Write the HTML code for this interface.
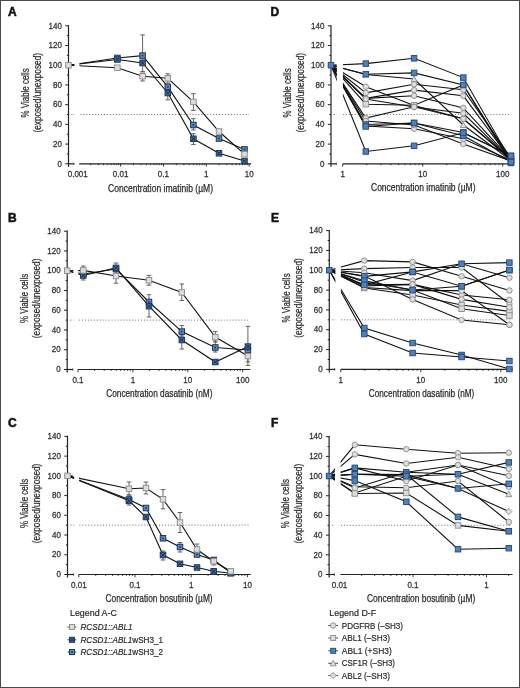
<!DOCTYPE html>
<html><head><meta charset="utf-8"><style>
html,body{margin:0;padding:0;background:#fff;}
#wrap{position:relative;width:520px;height:688px;overflow:hidden;background:#fff;}
#frame{position:absolute;left:0;top:0;width:518px;height:686px;border:1px solid #4a4a4a;}
svg{position:absolute;left:0;top:0;will-change:transform;}
.tk{font-family:"Liberation Sans", sans-serif;font-size:9.8px;fill:#333;stroke:#333;stroke-width:0.3px;}
.ttl{font-family:"Liberation Sans", sans-serif;font-size:10.3px;fill:#2a2a2a;stroke:#2a2a2a;stroke-width:0.25px;}
.pl{font-family:"Liberation Sans", sans-serif;font-size:12px;font-weight:bold;fill:#111;stroke:#111;stroke-width:0.5px;}
.lg{font-family:"Liberation Sans", sans-serif;font-size:8.9px;fill:#2a2a2a;stroke:#2a2a2a;stroke-width:0.2px;}
</style></head><body><div id="wrap">
<svg width="520" height="688" viewBox="0 0 520 688">
<line x1="68.5" y1="25.2" x2="68.5" y2="166.8" stroke="#222" stroke-width="1.2"/>
<line x1="65.3" y1="163.8" x2="68.5" y2="163.8" stroke="#222" stroke-width="1"/>
<text x="57.45" y="166.5" textLength="4.45" lengthAdjust="spacingAndGlyphs" class="tk">0</text>
<line x1="66.9" y1="153.94" x2="68.5" y2="153.94" stroke="#222" stroke-width="1"/>
<line x1="65.3" y1="144.09" x2="68.5" y2="144.09" stroke="#222" stroke-width="1"/>
<text x="53" y="146.79" textLength="8.9" lengthAdjust="spacingAndGlyphs" class="tk">20</text>
<line x1="66.9" y1="134.23" x2="68.5" y2="134.23" stroke="#222" stroke-width="1"/>
<line x1="65.3" y1="124.37" x2="68.5" y2="124.37" stroke="#222" stroke-width="1"/>
<text x="53" y="127.07" textLength="8.9" lengthAdjust="spacingAndGlyphs" class="tk">40</text>
<line x1="66.9" y1="114.51" x2="68.5" y2="114.51" stroke="#222" stroke-width="1"/>
<line x1="65.3" y1="104.66" x2="68.5" y2="104.66" stroke="#222" stroke-width="1"/>
<text x="53" y="107.36" textLength="8.9" lengthAdjust="spacingAndGlyphs" class="tk">60</text>
<line x1="66.9" y1="94.8" x2="68.5" y2="94.8" stroke="#222" stroke-width="1"/>
<line x1="65.3" y1="84.94" x2="68.5" y2="84.94" stroke="#222" stroke-width="1"/>
<text x="53" y="87.64" textLength="8.9" lengthAdjust="spacingAndGlyphs" class="tk">80</text>
<line x1="66.9" y1="75.09" x2="68.5" y2="75.09" stroke="#222" stroke-width="1"/>
<line x1="65.3" y1="65.23" x2="68.5" y2="65.23" stroke="#222" stroke-width="1"/>
<text x="48.55" y="67.93" textLength="13.35" lengthAdjust="spacingAndGlyphs" class="tk">100</text>
<line x1="66.9" y1="55.37" x2="68.5" y2="55.37" stroke="#222" stroke-width="1"/>
<line x1="65.3" y1="45.51" x2="68.5" y2="45.51" stroke="#222" stroke-width="1"/>
<text x="48.55" y="48.21" textLength="13.35" lengthAdjust="spacingAndGlyphs" class="tk">120</text>
<line x1="66.9" y1="35.66" x2="68.5" y2="35.66" stroke="#222" stroke-width="1"/>
<line x1="65.3" y1="25.8" x2="68.5" y2="25.8" stroke="#222" stroke-width="1"/>
<text x="48.55" y="28.5" textLength="13.35" lengthAdjust="spacingAndGlyphs" class="tk">140</text>
<line x1="68.5" y1="163.8" x2="73.9" y2="163.8" stroke="#222" stroke-width="1.2"/>
<line x1="73.9" y1="162.6" x2="73.9" y2="165" stroke="#222" stroke-width="0.8"/>
<line x1="79.2" y1="163.8" x2="251" y2="163.8" stroke="#222" stroke-width="1.2"/>
<line x1="90.65" y1="163.8" x2="90.65" y2="165.2" stroke="#222" stroke-width="0.9"/>
<line x1="98.19" y1="163.8" x2="98.19" y2="165.2" stroke="#222" stroke-width="0.9"/>
<line x1="103.55" y1="163.8" x2="103.55" y2="165.2" stroke="#222" stroke-width="0.9"/>
<line x1="107.7" y1="163.8" x2="107.7" y2="165.2" stroke="#222" stroke-width="0.9"/>
<line x1="111.09" y1="163.8" x2="111.09" y2="165.2" stroke="#222" stroke-width="0.9"/>
<line x1="113.96" y1="163.8" x2="113.96" y2="165.2" stroke="#222" stroke-width="0.9"/>
<line x1="116.45" y1="163.8" x2="116.45" y2="165.2" stroke="#222" stroke-width="0.9"/>
<line x1="118.64" y1="163.8" x2="118.64" y2="165.2" stroke="#222" stroke-width="0.9"/>
<line x1="120.6" y1="163.8" x2="120.6" y2="166.6" stroke="#222" stroke-width="0.9"/>
<line x1="133.5" y1="163.8" x2="133.5" y2="165.2" stroke="#222" stroke-width="0.9"/>
<line x1="141.04" y1="163.8" x2="141.04" y2="165.2" stroke="#222" stroke-width="0.9"/>
<line x1="146.4" y1="163.8" x2="146.4" y2="165.2" stroke="#222" stroke-width="0.9"/>
<line x1="150.55" y1="163.8" x2="150.55" y2="165.2" stroke="#222" stroke-width="0.9"/>
<line x1="153.94" y1="163.8" x2="153.94" y2="165.2" stroke="#222" stroke-width="0.9"/>
<line x1="156.81" y1="163.8" x2="156.81" y2="165.2" stroke="#222" stroke-width="0.9"/>
<line x1="159.3" y1="163.8" x2="159.3" y2="165.2" stroke="#222" stroke-width="0.9"/>
<line x1="161.49" y1="163.8" x2="161.49" y2="165.2" stroke="#222" stroke-width="0.9"/>
<line x1="163.45" y1="163.8" x2="163.45" y2="166.6" stroke="#222" stroke-width="0.9"/>
<line x1="176.35" y1="163.8" x2="176.35" y2="165.2" stroke="#222" stroke-width="0.9"/>
<line x1="183.89" y1="163.8" x2="183.89" y2="165.2" stroke="#222" stroke-width="0.9"/>
<line x1="189.25" y1="163.8" x2="189.25" y2="165.2" stroke="#222" stroke-width="0.9"/>
<line x1="193.4" y1="163.8" x2="193.4" y2="165.2" stroke="#222" stroke-width="0.9"/>
<line x1="196.79" y1="163.8" x2="196.79" y2="165.2" stroke="#222" stroke-width="0.9"/>
<line x1="199.66" y1="163.8" x2="199.66" y2="165.2" stroke="#222" stroke-width="0.9"/>
<line x1="202.15" y1="163.8" x2="202.15" y2="165.2" stroke="#222" stroke-width="0.9"/>
<line x1="204.34" y1="163.8" x2="204.34" y2="165.2" stroke="#222" stroke-width="0.9"/>
<line x1="206.3" y1="163.8" x2="206.3" y2="166.6" stroke="#222" stroke-width="0.9"/>
<line x1="219.2" y1="163.8" x2="219.2" y2="165.2" stroke="#222" stroke-width="0.9"/>
<line x1="226.74" y1="163.8" x2="226.74" y2="165.2" stroke="#222" stroke-width="0.9"/>
<line x1="232.1" y1="163.8" x2="232.1" y2="165.2" stroke="#222" stroke-width="0.9"/>
<line x1="236.25" y1="163.8" x2="236.25" y2="165.2" stroke="#222" stroke-width="0.9"/>
<line x1="239.64" y1="163.8" x2="239.64" y2="165.2" stroke="#222" stroke-width="0.9"/>
<line x1="242.51" y1="163.8" x2="242.51" y2="165.2" stroke="#222" stroke-width="0.9"/>
<line x1="245" y1="163.8" x2="245" y2="165.2" stroke="#222" stroke-width="0.9"/>
<line x1="247.19" y1="163.8" x2="247.19" y2="165.2" stroke="#222" stroke-width="0.9"/>
<line x1="249.15" y1="163.8" x2="249.15" y2="166.6" stroke="#222" stroke-width="0.9"/>
<text x="67.7" y="177.2" textLength="20.1" lengthAdjust="spacingAndGlyphs" class="tk">0.001</text>
<text x="112.78" y="177.2" textLength="15.65" lengthAdjust="spacingAndGlyphs" class="tk">0.01</text>
<text x="157.85" y="177.2" textLength="11.2" lengthAdjust="spacingAndGlyphs" class="tk">0.1</text>
<text x="204.08" y="177.2" textLength="4.45" lengthAdjust="spacingAndGlyphs" class="tk">1</text>
<text x="244.7" y="177.2" textLength="8.9" lengthAdjust="spacingAndGlyphs" class="tk">10</text>
<text x="108" y="191.5" textLength="105" lengthAdjust="spacingAndGlyphs" class="ttl">Concentration imatinib (µM)</text>
<text transform="translate(28.8,92.8) rotate(-90)" x="-24.6" y="0" textLength="49.2" lengthAdjust="spacingAndGlyphs" class="ttl">% Viable cells</text>
<text transform="translate(41,92.8) rotate(-90)" x="-39.8" y="0" textLength="79.6" lengthAdjust="spacingAndGlyphs" class="ttl">(exposed/unexposed)</text>
<line x1="71.5" y1="114.51" x2="249" y2="114.51" stroke="#555" stroke-width="0.8" stroke-dasharray="1.1 1.85"/>
<text x="8" y="16.2" class="pl">A</text>
<path d="M68.5 65.23 L117.4 58 L142.6 55.6 L167.8 86.9 L193.4 125 L219 138.5 L244.5 149.4" fill="none" stroke="#111" stroke-width="1.1"/>
<path d="M68.5 65.23 L117.4 59.5 L142.6 63 L167.8 93 L193.4 138.8 L219 153.3 L244.5 161" fill="none" stroke="#111" stroke-width="1.1"/>
<path d="M68.5 65.23 L117.4 67.7 L142.6 76.2 L167.8 78.3 L193.4 101.9 L219 131.5 L244.5 154.2" fill="none" stroke="#111" stroke-width="1.1"/>
<rect x="74.5" y="20.8" width="4.9" height="142" fill="#fff"/>
<line x1="142.6" y1="34.9" x2="142.6" y2="55.6" stroke="#555" stroke-width="0.9"/><line x1="140.3" y1="34.9" x2="144.9" y2="34.9" stroke="#555" stroke-width="0.9"/><line x1="140.3" y1="55.6" x2="144.9" y2="55.6" stroke="#555" stroke-width="0.9"/>
<line x1="193.4" y1="118.7" x2="193.4" y2="130" stroke="#555" stroke-width="0.9"/><line x1="191.1" y1="118.7" x2="195.7" y2="118.7" stroke="#555" stroke-width="0.9"/><line x1="191.1" y1="130" x2="195.7" y2="130" stroke="#555" stroke-width="0.9"/>
<line x1="142.6" y1="60" x2="142.6" y2="71.5" stroke="#555" stroke-width="0.9"/><line x1="140.3" y1="60" x2="144.9" y2="60" stroke="#555" stroke-width="0.9"/><line x1="140.3" y1="71.5" x2="144.9" y2="71.5" stroke="#555" stroke-width="0.9"/>
<line x1="167.8" y1="86" x2="167.8" y2="99.8" stroke="#555" stroke-width="0.9"/><line x1="165.5" y1="86" x2="170.1" y2="86" stroke="#555" stroke-width="0.9"/><line x1="165.5" y1="99.8" x2="170.1" y2="99.8" stroke="#555" stroke-width="0.9"/>
<line x1="193.4" y1="133.7" x2="193.4" y2="144.6" stroke="#555" stroke-width="0.9"/><line x1="191.1" y1="133.7" x2="195.7" y2="133.7" stroke="#555" stroke-width="0.9"/><line x1="191.1" y1="144.6" x2="195.7" y2="144.6" stroke="#555" stroke-width="0.9"/>
<line x1="142.6" y1="73" x2="142.6" y2="81" stroke="#555" stroke-width="0.9"/><line x1="140.3" y1="73" x2="144.9" y2="73" stroke="#555" stroke-width="0.9"/><line x1="140.3" y1="81" x2="144.9" y2="81" stroke="#555" stroke-width="0.9"/>
<line x1="167.8" y1="73.8" x2="167.8" y2="83" stroke="#555" stroke-width="0.9"/><line x1="165.5" y1="73.8" x2="170.1" y2="73.8" stroke="#555" stroke-width="0.9"/><line x1="165.5" y1="83" x2="170.1" y2="83" stroke="#555" stroke-width="0.9"/>
<line x1="193.4" y1="93.7" x2="193.4" y2="110.4" stroke="#555" stroke-width="0.9"/><line x1="191.1" y1="93.7" x2="195.7" y2="93.7" stroke="#555" stroke-width="0.9"/><line x1="191.1" y1="110.4" x2="195.7" y2="110.4" stroke="#555" stroke-width="0.9"/>
<rect x="114.65" y="55.25" width="5.5" height="5.5" fill="#5a88c4" stroke="#1d3557" stroke-width="1"/><circle cx="117.4" cy="58" r="0.9" fill="#1d3557"/>
<rect x="139.85" y="52.85" width="5.5" height="5.5" fill="#5a88c4" stroke="#1d3557" stroke-width="1"/><circle cx="142.6" cy="55.6" r="0.9" fill="#1d3557"/>
<rect x="165.05" y="84.15" width="5.5" height="5.5" fill="#5a88c4" stroke="#1d3557" stroke-width="1"/><circle cx="167.8" cy="86.9" r="0.9" fill="#1d3557"/>
<rect x="190.65" y="122.25" width="5.5" height="5.5" fill="#5a88c4" stroke="#1d3557" stroke-width="1"/><circle cx="193.4" cy="125" r="0.9" fill="#1d3557"/>
<rect x="216.25" y="135.75" width="5.5" height="5.5" fill="#5a88c4" stroke="#1d3557" stroke-width="1"/><circle cx="219" cy="138.5" r="0.9" fill="#1d3557"/>
<rect x="241.75" y="146.65" width="5.5" height="5.5" fill="#5a88c4" stroke="#1d3557" stroke-width="1"/><circle cx="244.5" cy="149.4" r="0.9" fill="#1d3557"/>
<rect x="114.65" y="56.75" width="5.5" height="5.5" fill="#4f7db8" stroke="#1d3557" stroke-width="1"/><path d="M115.45 57.55L119.35 61.45M119.35 57.55L115.45 61.45" stroke="#1d3557" stroke-width="1.1"/>
<rect x="139.85" y="60.25" width="5.5" height="5.5" fill="#4f7db8" stroke="#1d3557" stroke-width="1"/><path d="M140.65 61.05L144.55 64.95M144.55 61.05L140.65 64.95" stroke="#1d3557" stroke-width="1.1"/>
<rect x="165.05" y="90.25" width="5.5" height="5.5" fill="#4f7db8" stroke="#1d3557" stroke-width="1"/><path d="M165.85 91.05L169.75 94.95M169.75 91.05L165.85 94.95" stroke="#1d3557" stroke-width="1.1"/>
<rect x="190.65" y="136.05" width="5.5" height="5.5" fill="#4f7db8" stroke="#1d3557" stroke-width="1"/><path d="M191.45 136.85L195.35 140.75M195.35 136.85L191.45 140.75" stroke="#1d3557" stroke-width="1.1"/>
<rect x="216.25" y="150.55" width="5.5" height="5.5" fill="#4f7db8" stroke="#1d3557" stroke-width="1"/><path d="M217.05 151.35L220.95 155.25M220.95 151.35L217.05 155.25" stroke="#1d3557" stroke-width="1.1"/>
<rect x="241.75" y="158.25" width="5.5" height="5.5" fill="#4f7db8" stroke="#1d3557" stroke-width="1"/><path d="M242.55 159.05L246.45 162.95M246.45 159.05L242.55 162.95" stroke="#1d3557" stroke-width="1.1"/>
<rect x="114.65" y="64.95" width="5.5" height="5.5" fill="#dcdcdc" stroke="#8a8a8a" stroke-width="0.9"/>
<rect x="139.85" y="73.45" width="5.5" height="5.5" fill="#dcdcdc" stroke="#8a8a8a" stroke-width="0.9"/>
<rect x="165.05" y="75.55" width="5.5" height="5.5" fill="#dcdcdc" stroke="#8a8a8a" stroke-width="0.9"/>
<rect x="190.65" y="99.15" width="5.5" height="5.5" fill="#dcdcdc" stroke="#8a8a8a" stroke-width="0.9"/>
<rect x="216.25" y="128.75" width="5.5" height="5.5" fill="#dcdcdc" stroke="#8a8a8a" stroke-width="0.9"/>
<rect x="241.75" y="151.45" width="5.5" height="5.5" fill="#dcdcdc" stroke="#8a8a8a" stroke-width="0.9"/>
<rect x="65.75" y="62.48" width="5.5" height="5.5" fill="#dcdcdc" stroke="#8a8a8a" stroke-width="0.9"/>
<line x1="71.9" y1="65.23" x2="73.7" y2="65.23" stroke="#1a1a1a" stroke-width="1.2"/>
<line x1="67.2" y1="230.6" x2="67.2" y2="372.5" stroke="#222" stroke-width="1.2"/>
<line x1="64" y1="369.5" x2="67.2" y2="369.5" stroke="#222" stroke-width="1"/>
<text x="56.15" y="372.2" textLength="4.45" lengthAdjust="spacingAndGlyphs" class="tk">0</text>
<line x1="65.6" y1="359.62" x2="67.2" y2="359.62" stroke="#222" stroke-width="1"/>
<line x1="64" y1="349.74" x2="67.2" y2="349.74" stroke="#222" stroke-width="1"/>
<text x="51.7" y="352.44" textLength="8.9" lengthAdjust="spacingAndGlyphs" class="tk">20</text>
<line x1="65.6" y1="339.86" x2="67.2" y2="339.86" stroke="#222" stroke-width="1"/>
<line x1="64" y1="329.99" x2="67.2" y2="329.99" stroke="#222" stroke-width="1"/>
<text x="51.7" y="332.69" textLength="8.9" lengthAdjust="spacingAndGlyphs" class="tk">40</text>
<line x1="65.6" y1="320.11" x2="67.2" y2="320.11" stroke="#222" stroke-width="1"/>
<line x1="64" y1="310.23" x2="67.2" y2="310.23" stroke="#222" stroke-width="1"/>
<text x="51.7" y="312.93" textLength="8.9" lengthAdjust="spacingAndGlyphs" class="tk">60</text>
<line x1="65.6" y1="300.35" x2="67.2" y2="300.35" stroke="#222" stroke-width="1"/>
<line x1="64" y1="290.47" x2="67.2" y2="290.47" stroke="#222" stroke-width="1"/>
<text x="51.7" y="293.17" textLength="8.9" lengthAdjust="spacingAndGlyphs" class="tk">80</text>
<line x1="65.6" y1="280.59" x2="67.2" y2="280.59" stroke="#222" stroke-width="1"/>
<line x1="64" y1="270.71" x2="67.2" y2="270.71" stroke="#222" stroke-width="1"/>
<text x="47.25" y="273.41" textLength="13.35" lengthAdjust="spacingAndGlyphs" class="tk">100</text>
<line x1="65.6" y1="260.84" x2="67.2" y2="260.84" stroke="#222" stroke-width="1"/>
<line x1="64" y1="250.96" x2="67.2" y2="250.96" stroke="#222" stroke-width="1"/>
<text x="47.25" y="253.66" textLength="13.35" lengthAdjust="spacingAndGlyphs" class="tk">120</text>
<line x1="65.6" y1="241.08" x2="67.2" y2="241.08" stroke="#222" stroke-width="1"/>
<line x1="64" y1="231.2" x2="67.2" y2="231.2" stroke="#222" stroke-width="1"/>
<text x="47.25" y="233.9" textLength="13.35" lengthAdjust="spacingAndGlyphs" class="tk">140</text>
<line x1="67.2" y1="369.5" x2="72.8" y2="369.5" stroke="#222" stroke-width="1.2"/>
<line x1="72.8" y1="368.3" x2="72.8" y2="370.7" stroke="#222" stroke-width="0.8"/>
<line x1="78" y1="369.5" x2="250.3" y2="369.5" stroke="#222" stroke-width="1.2"/>
<line x1="78" y1="369.5" x2="78" y2="372.3" stroke="#222" stroke-width="0.9"/>
<line x1="94.53" y1="369.5" x2="94.53" y2="370.9" stroke="#222" stroke-width="0.9"/>
<line x1="104.19" y1="369.5" x2="104.19" y2="370.9" stroke="#222" stroke-width="0.9"/>
<line x1="111.05" y1="369.5" x2="111.05" y2="370.9" stroke="#222" stroke-width="0.9"/>
<line x1="116.37" y1="369.5" x2="116.37" y2="370.9" stroke="#222" stroke-width="0.9"/>
<line x1="120.72" y1="369.5" x2="120.72" y2="370.9" stroke="#222" stroke-width="0.9"/>
<line x1="124.4" y1="369.5" x2="124.4" y2="370.9" stroke="#222" stroke-width="0.9"/>
<line x1="127.58" y1="369.5" x2="127.58" y2="370.9" stroke="#222" stroke-width="0.9"/>
<line x1="130.39" y1="369.5" x2="130.39" y2="370.9" stroke="#222" stroke-width="0.9"/>
<line x1="132.9" y1="369.5" x2="132.9" y2="372.3" stroke="#222" stroke-width="0.9"/>
<line x1="149.43" y1="369.5" x2="149.43" y2="370.9" stroke="#222" stroke-width="0.9"/>
<line x1="159.09" y1="369.5" x2="159.09" y2="370.9" stroke="#222" stroke-width="0.9"/>
<line x1="165.95" y1="369.5" x2="165.95" y2="370.9" stroke="#222" stroke-width="0.9"/>
<line x1="171.27" y1="369.5" x2="171.27" y2="370.9" stroke="#222" stroke-width="0.9"/>
<line x1="175.62" y1="369.5" x2="175.62" y2="370.9" stroke="#222" stroke-width="0.9"/>
<line x1="179.3" y1="369.5" x2="179.3" y2="370.9" stroke="#222" stroke-width="0.9"/>
<line x1="182.48" y1="369.5" x2="182.48" y2="370.9" stroke="#222" stroke-width="0.9"/>
<line x1="185.29" y1="369.5" x2="185.29" y2="370.9" stroke="#222" stroke-width="0.9"/>
<line x1="187.8" y1="369.5" x2="187.8" y2="372.3" stroke="#222" stroke-width="0.9"/>
<line x1="204.33" y1="369.5" x2="204.33" y2="370.9" stroke="#222" stroke-width="0.9"/>
<line x1="213.99" y1="369.5" x2="213.99" y2="370.9" stroke="#222" stroke-width="0.9"/>
<line x1="220.85" y1="369.5" x2="220.85" y2="370.9" stroke="#222" stroke-width="0.9"/>
<line x1="226.17" y1="369.5" x2="226.17" y2="370.9" stroke="#222" stroke-width="0.9"/>
<line x1="230.52" y1="369.5" x2="230.52" y2="370.9" stroke="#222" stroke-width="0.9"/>
<line x1="234.2" y1="369.5" x2="234.2" y2="370.9" stroke="#222" stroke-width="0.9"/>
<line x1="237.38" y1="369.5" x2="237.38" y2="370.9" stroke="#222" stroke-width="0.9"/>
<line x1="240.19" y1="369.5" x2="240.19" y2="370.9" stroke="#222" stroke-width="0.9"/>
<line x1="242.7" y1="369.5" x2="242.7" y2="372.3" stroke="#222" stroke-width="0.9"/>
<text x="72.4" y="382.9" textLength="11.2" lengthAdjust="spacingAndGlyphs" class="tk">0.1</text>
<text x="130.68" y="382.9" textLength="4.45" lengthAdjust="spacingAndGlyphs" class="tk">1</text>
<text x="183.35" y="382.9" textLength="8.9" lengthAdjust="spacingAndGlyphs" class="tk">10</text>
<text x="236.02" y="382.9" textLength="13.35" lengthAdjust="spacingAndGlyphs" class="tk">100</text>
<text x="106.2" y="396.5" textLength="106.3" lengthAdjust="spacingAndGlyphs" class="ttl">Concentration dasatinib (nM)</text>
<text transform="translate(27.5,298.35) rotate(-90)" x="-24.6" y="0" textLength="49.2" lengthAdjust="spacingAndGlyphs" class="ttl">% Viable cells</text>
<text transform="translate(39.7,298.35) rotate(-90)" x="-39.8" y="0" textLength="79.6" lengthAdjust="spacingAndGlyphs" class="ttl">(exposed/unexposed)</text>
<line x1="70.2" y1="320.11" x2="248.3" y2="320.11" stroke="#555" stroke-width="0.8" stroke-dasharray="1.1 1.85"/>
<text x="8" y="221.7" class="pl">B</text>
<path d="M67.2 270.71 L83.3 274 L116 269 L149 302 L181.8 331.6 L215.3 347.5 L247.9 350" fill="none" stroke="#111" stroke-width="1.1"/>
<path d="M67.2 270.71 L83.3 275.5 L116 267.9 L149 306.2 L181.8 340 L215.3 362 L247.9 346.6" fill="none" stroke="#111" stroke-width="1.1"/>
<path d="M67.2 270.71 L83.3 270.4 L116 276 L149 280.3 L181.8 292.4 L215.3 337.1 L247.9 356.1" fill="none" stroke="#111" stroke-width="1.1"/>
<rect x="73.4" y="226.2" width="4.8" height="142.3" fill="#fff"/>
<line x1="181.8" y1="325.6" x2="181.8" y2="336" stroke="#555" stroke-width="0.9"/><line x1="179.5" y1="325.6" x2="184.1" y2="325.6" stroke="#555" stroke-width="0.9"/><line x1="179.5" y1="336" x2="184.1" y2="336" stroke="#555" stroke-width="0.9"/>
<line x1="215.3" y1="341" x2="215.3" y2="352" stroke="#555" stroke-width="0.9"/><line x1="213" y1="341" x2="217.6" y2="341" stroke="#555" stroke-width="0.9"/><line x1="213" y1="352" x2="217.6" y2="352" stroke="#555" stroke-width="0.9"/>
<line x1="83.3" y1="271" x2="83.3" y2="280" stroke="#555" stroke-width="0.9"/><line x1="81" y1="271" x2="85.6" y2="271" stroke="#555" stroke-width="0.9"/><line x1="81" y1="280" x2="85.6" y2="280" stroke="#555" stroke-width="0.9"/>
<line x1="116" y1="263" x2="116" y2="272" stroke="#555" stroke-width="0.9"/><line x1="113.7" y1="263" x2="118.3" y2="263" stroke="#555" stroke-width="0.9"/><line x1="113.7" y1="272" x2="118.3" y2="272" stroke="#555" stroke-width="0.9"/>
<line x1="149" y1="294.7" x2="149" y2="317" stroke="#555" stroke-width="0.9"/><line x1="146.7" y1="294.7" x2="151.3" y2="294.7" stroke="#555" stroke-width="0.9"/><line x1="146.7" y1="317" x2="151.3" y2="317" stroke="#555" stroke-width="0.9"/>
<line x1="181.8" y1="332" x2="181.8" y2="349" stroke="#555" stroke-width="0.9"/><line x1="179.5" y1="332" x2="184.1" y2="332" stroke="#555" stroke-width="0.9"/><line x1="179.5" y1="349" x2="184.1" y2="349" stroke="#555" stroke-width="0.9"/>
<line x1="247.9" y1="326.4" x2="247.9" y2="365.4" stroke="#555" stroke-width="0.9"/><line x1="245.6" y1="326.4" x2="250.2" y2="326.4" stroke="#555" stroke-width="0.9"/><line x1="245.6" y1="365.4" x2="250.2" y2="365.4" stroke="#555" stroke-width="0.9"/>
<line x1="83.3" y1="266" x2="83.3" y2="274.5" stroke="#555" stroke-width="0.9"/><line x1="81" y1="266" x2="85.6" y2="266" stroke="#555" stroke-width="0.9"/><line x1="81" y1="274.5" x2="85.6" y2="274.5" stroke="#555" stroke-width="0.9"/>
<line x1="116" y1="270" x2="116" y2="283.2" stroke="#555" stroke-width="0.9"/><line x1="113.7" y1="270" x2="118.3" y2="270" stroke="#555" stroke-width="0.9"/><line x1="113.7" y1="283.2" x2="118.3" y2="283.2" stroke="#555" stroke-width="0.9"/>
<line x1="149" y1="275.4" x2="149" y2="285.2" stroke="#555" stroke-width="0.9"/><line x1="146.7" y1="275.4" x2="151.3" y2="275.4" stroke="#555" stroke-width="0.9"/><line x1="146.7" y1="285.2" x2="151.3" y2="285.2" stroke="#555" stroke-width="0.9"/>
<line x1="181.8" y1="284" x2="181.8" y2="300.5" stroke="#555" stroke-width="0.9"/><line x1="179.5" y1="284" x2="184.1" y2="284" stroke="#555" stroke-width="0.9"/><line x1="179.5" y1="300.5" x2="184.1" y2="300.5" stroke="#555" stroke-width="0.9"/>
<line x1="215.3" y1="331.6" x2="215.3" y2="342" stroke="#555" stroke-width="0.9"/><line x1="213" y1="331.6" x2="217.6" y2="331.6" stroke="#555" stroke-width="0.9"/><line x1="213" y1="342" x2="217.6" y2="342" stroke="#555" stroke-width="0.9"/>
<line x1="247.9" y1="350" x2="247.9" y2="362" stroke="#555" stroke-width="0.9"/><line x1="245.6" y1="350" x2="250.2" y2="350" stroke="#555" stroke-width="0.9"/><line x1="245.6" y1="362" x2="250.2" y2="362" stroke="#555" stroke-width="0.9"/>
<rect x="80.55" y="271.25" width="5.5" height="5.5" fill="#5a88c4" stroke="#1d3557" stroke-width="1"/><circle cx="83.3" cy="274" r="0.9" fill="#1d3557"/>
<rect x="113.25" y="266.25" width="5.5" height="5.5" fill="#5a88c4" stroke="#1d3557" stroke-width="1"/><circle cx="116" cy="269" r="0.9" fill="#1d3557"/>
<rect x="146.25" y="299.25" width="5.5" height="5.5" fill="#5a88c4" stroke="#1d3557" stroke-width="1"/><circle cx="149" cy="302" r="0.9" fill="#1d3557"/>
<rect x="179.05" y="328.85" width="5.5" height="5.5" fill="#5a88c4" stroke="#1d3557" stroke-width="1"/><circle cx="181.8" cy="331.6" r="0.9" fill="#1d3557"/>
<rect x="212.55" y="344.75" width="5.5" height="5.5" fill="#5a88c4" stroke="#1d3557" stroke-width="1"/><circle cx="215.3" cy="347.5" r="0.9" fill="#1d3557"/>
<rect x="245.15" y="347.25" width="5.5" height="5.5" fill="#5a88c4" stroke="#1d3557" stroke-width="1"/><circle cx="247.9" cy="350" r="0.9" fill="#1d3557"/>
<rect x="80.55" y="272.75" width="5.5" height="5.5" fill="#4f7db8" stroke="#1d3557" stroke-width="1"/><path d="M81.35 273.55L85.25 277.45M85.25 273.55L81.35 277.45" stroke="#1d3557" stroke-width="1.1"/>
<rect x="113.25" y="265.15" width="5.5" height="5.5" fill="#4f7db8" stroke="#1d3557" stroke-width="1"/><path d="M114.05 265.95L117.95 269.85M117.95 265.95L114.05 269.85" stroke="#1d3557" stroke-width="1.1"/>
<rect x="146.25" y="303.45" width="5.5" height="5.5" fill="#4f7db8" stroke="#1d3557" stroke-width="1"/><path d="M147.05 304.25L150.95 308.15M150.95 304.25L147.05 308.15" stroke="#1d3557" stroke-width="1.1"/>
<rect x="179.05" y="337.25" width="5.5" height="5.5" fill="#4f7db8" stroke="#1d3557" stroke-width="1"/><path d="M179.85 338.05L183.75 341.95M183.75 338.05L179.85 341.95" stroke="#1d3557" stroke-width="1.1"/>
<rect x="212.55" y="359.25" width="5.5" height="5.5" fill="#4f7db8" stroke="#1d3557" stroke-width="1"/><path d="M213.35 360.05L217.25 363.95M217.25 360.05L213.35 363.95" stroke="#1d3557" stroke-width="1.1"/>
<rect x="245.15" y="343.85" width="5.5" height="5.5" fill="#4f7db8" stroke="#1d3557" stroke-width="1"/><path d="M245.95 344.65L249.85 348.55M249.85 344.65L245.95 348.55" stroke="#1d3557" stroke-width="1.1"/>
<rect x="80.55" y="267.65" width="5.5" height="5.5" fill="#dcdcdc" stroke="#8a8a8a" stroke-width="0.9"/>
<rect x="113.25" y="273.25" width="5.5" height="5.5" fill="#dcdcdc" stroke="#8a8a8a" stroke-width="0.9"/>
<rect x="146.25" y="277.55" width="5.5" height="5.5" fill="#dcdcdc" stroke="#8a8a8a" stroke-width="0.9"/>
<rect x="179.05" y="289.65" width="5.5" height="5.5" fill="#dcdcdc" stroke="#8a8a8a" stroke-width="0.9"/>
<rect x="212.55" y="334.35" width="5.5" height="5.5" fill="#dcdcdc" stroke="#8a8a8a" stroke-width="0.9"/>
<rect x="245.15" y="353.35" width="5.5" height="5.5" fill="#dcdcdc" stroke="#8a8a8a" stroke-width="0.9"/>
<rect x="64.45" y="267.96" width="5.5" height="5.5" fill="#dcdcdc" stroke="#8a8a8a" stroke-width="0.9"/>
<line x1="70.6" y1="270.71" x2="72.4" y2="270.71" stroke="#1a1a1a" stroke-width="1.2"/>
<line x1="67.5" y1="435.8" x2="67.5" y2="577.5" stroke="#222" stroke-width="1.2"/>
<line x1="64.3" y1="574.5" x2="67.5" y2="574.5" stroke="#222" stroke-width="1"/>
<text x="56.45" y="577.2" textLength="4.45" lengthAdjust="spacingAndGlyphs" class="tk">0</text>
<line x1="65.9" y1="564.64" x2="67.5" y2="564.64" stroke="#222" stroke-width="1"/>
<line x1="64.3" y1="554.77" x2="67.5" y2="554.77" stroke="#222" stroke-width="1"/>
<text x="52" y="557.47" textLength="8.9" lengthAdjust="spacingAndGlyphs" class="tk">20</text>
<line x1="65.9" y1="544.91" x2="67.5" y2="544.91" stroke="#222" stroke-width="1"/>
<line x1="64.3" y1="535.04" x2="67.5" y2="535.04" stroke="#222" stroke-width="1"/>
<text x="52" y="537.74" textLength="8.9" lengthAdjust="spacingAndGlyphs" class="tk">40</text>
<line x1="65.9" y1="525.18" x2="67.5" y2="525.18" stroke="#222" stroke-width="1"/>
<line x1="64.3" y1="515.31" x2="67.5" y2="515.31" stroke="#222" stroke-width="1"/>
<text x="52" y="518.01" textLength="8.9" lengthAdjust="spacingAndGlyphs" class="tk">60</text>
<line x1="65.9" y1="505.45" x2="67.5" y2="505.45" stroke="#222" stroke-width="1"/>
<line x1="64.3" y1="495.59" x2="67.5" y2="495.59" stroke="#222" stroke-width="1"/>
<text x="52" y="498.29" textLength="8.9" lengthAdjust="spacingAndGlyphs" class="tk">80</text>
<line x1="65.9" y1="485.72" x2="67.5" y2="485.72" stroke="#222" stroke-width="1"/>
<line x1="64.3" y1="475.86" x2="67.5" y2="475.86" stroke="#222" stroke-width="1"/>
<text x="47.55" y="478.56" textLength="13.35" lengthAdjust="spacingAndGlyphs" class="tk">100</text>
<line x1="65.9" y1="465.99" x2="67.5" y2="465.99" stroke="#222" stroke-width="1"/>
<line x1="64.3" y1="456.13" x2="67.5" y2="456.13" stroke="#222" stroke-width="1"/>
<text x="47.55" y="458.83" textLength="13.35" lengthAdjust="spacingAndGlyphs" class="tk">120</text>
<line x1="65.9" y1="446.26" x2="67.5" y2="446.26" stroke="#222" stroke-width="1"/>
<line x1="64.3" y1="436.4" x2="67.5" y2="436.4" stroke="#222" stroke-width="1"/>
<text x="47.55" y="439.1" textLength="13.35" lengthAdjust="spacingAndGlyphs" class="tk">140</text>
<line x1="67.5" y1="574.5" x2="73.6" y2="574.5" stroke="#222" stroke-width="1.2"/>
<line x1="73.6" y1="573.3" x2="73.6" y2="575.7" stroke="#222" stroke-width="0.8"/>
<line x1="78.8" y1="574.5" x2="250.8" y2="574.5" stroke="#222" stroke-width="1.2"/>
<line x1="78.8" y1="574.5" x2="78.8" y2="577.3" stroke="#222" stroke-width="0.9"/>
<line x1="95.72" y1="574.5" x2="95.72" y2="575.9" stroke="#222" stroke-width="0.9"/>
<line x1="105.61" y1="574.5" x2="105.61" y2="575.9" stroke="#222" stroke-width="0.9"/>
<line x1="112.64" y1="574.5" x2="112.64" y2="575.9" stroke="#222" stroke-width="0.9"/>
<line x1="118.08" y1="574.5" x2="118.08" y2="575.9" stroke="#222" stroke-width="0.9"/>
<line x1="122.53" y1="574.5" x2="122.53" y2="575.9" stroke="#222" stroke-width="0.9"/>
<line x1="126.29" y1="574.5" x2="126.29" y2="575.9" stroke="#222" stroke-width="0.9"/>
<line x1="129.55" y1="574.5" x2="129.55" y2="575.9" stroke="#222" stroke-width="0.9"/>
<line x1="132.43" y1="574.5" x2="132.43" y2="575.9" stroke="#222" stroke-width="0.9"/>
<line x1="135" y1="574.5" x2="135" y2="577.3" stroke="#222" stroke-width="0.9"/>
<line x1="151.92" y1="574.5" x2="151.92" y2="575.9" stroke="#222" stroke-width="0.9"/>
<line x1="161.81" y1="574.5" x2="161.81" y2="575.9" stroke="#222" stroke-width="0.9"/>
<line x1="168.84" y1="574.5" x2="168.84" y2="575.9" stroke="#222" stroke-width="0.9"/>
<line x1="174.28" y1="574.5" x2="174.28" y2="575.9" stroke="#222" stroke-width="0.9"/>
<line x1="178.73" y1="574.5" x2="178.73" y2="575.9" stroke="#222" stroke-width="0.9"/>
<line x1="182.49" y1="574.5" x2="182.49" y2="575.9" stroke="#222" stroke-width="0.9"/>
<line x1="185.75" y1="574.5" x2="185.75" y2="575.9" stroke="#222" stroke-width="0.9"/>
<line x1="188.63" y1="574.5" x2="188.63" y2="575.9" stroke="#222" stroke-width="0.9"/>
<line x1="191.2" y1="574.5" x2="191.2" y2="577.3" stroke="#222" stroke-width="0.9"/>
<line x1="208.12" y1="574.5" x2="208.12" y2="575.9" stroke="#222" stroke-width="0.9"/>
<line x1="218.01" y1="574.5" x2="218.01" y2="575.9" stroke="#222" stroke-width="0.9"/>
<line x1="225.04" y1="574.5" x2="225.04" y2="575.9" stroke="#222" stroke-width="0.9"/>
<line x1="230.48" y1="574.5" x2="230.48" y2="575.9" stroke="#222" stroke-width="0.9"/>
<line x1="234.93" y1="574.5" x2="234.93" y2="575.9" stroke="#222" stroke-width="0.9"/>
<line x1="238.69" y1="574.5" x2="238.69" y2="575.9" stroke="#222" stroke-width="0.9"/>
<line x1="241.95" y1="574.5" x2="241.95" y2="575.9" stroke="#222" stroke-width="0.9"/>
<line x1="244.83" y1="574.5" x2="244.83" y2="575.9" stroke="#222" stroke-width="0.9"/>
<line x1="247.4" y1="574.5" x2="247.4" y2="577.3" stroke="#222" stroke-width="0.9"/>
<text x="70.97" y="587.9" textLength="15.65" lengthAdjust="spacingAndGlyphs" class="tk">0.01</text>
<text x="129.4" y="587.9" textLength="11.2" lengthAdjust="spacingAndGlyphs" class="tk">0.1</text>
<text x="188.97" y="587.9" textLength="4.45" lengthAdjust="spacingAndGlyphs" class="tk">1</text>
<text x="242.95" y="587.9" textLength="8.9" lengthAdjust="spacingAndGlyphs" class="tk">10</text>
<text x="105.6" y="602" textLength="107" lengthAdjust="spacingAndGlyphs" class="ttl">Concentration bosutinib (µM)</text>
<text transform="translate(27.8,503.45) rotate(-90)" x="-24.6" y="0" textLength="49.2" lengthAdjust="spacingAndGlyphs" class="ttl">% Viable cells</text>
<text transform="translate(40,503.45) rotate(-90)" x="-39.8" y="0" textLength="79.6" lengthAdjust="spacingAndGlyphs" class="ttl">(exposed/unexposed)</text>
<line x1="70.5" y1="525.18" x2="248.8" y2="525.18" stroke="#555" stroke-width="0.8" stroke-dasharray="1.1 1.85"/>
<text x="8" y="426.8" class="pl">C</text>
<path d="M67.5 475.86 L129 499.5 L146 508 L163 538.3 L180 547 L197 554.5 L213.7 560 L230.7 572.8" fill="none" stroke="#111" stroke-width="1.1"/>
<path d="M67.5 475.86 L129 500.8 L146 517 L163 555 L180 563.8 L197 567.5 L213.7 571.3 L230.7 573.3" fill="none" stroke="#111" stroke-width="1.1"/>
<path d="M67.5 475.86 L129 488.7 L146 488 L163 499.3 L180 522.5 L197 549.5 L213.7 561.3 L230.7 571.3" fill="none" stroke="#111" stroke-width="1.1"/>
<rect x="74.2" y="431.4" width="4.8" height="142.1" fill="#fff"/>
<line x1="180" y1="542.5" x2="180" y2="552" stroke="#555" stroke-width="0.9"/><line x1="177.7" y1="542.5" x2="182.3" y2="542.5" stroke="#555" stroke-width="0.9"/><line x1="177.7" y1="552" x2="182.3" y2="552" stroke="#555" stroke-width="0.9"/>
<line x1="129" y1="495" x2="129" y2="505" stroke="#555" stroke-width="0.9"/><line x1="126.7" y1="495" x2="131.3" y2="495" stroke="#555" stroke-width="0.9"/><line x1="126.7" y1="505" x2="131.3" y2="505" stroke="#555" stroke-width="0.9"/>
<line x1="163" y1="551" x2="163" y2="560" stroke="#555" stroke-width="0.9"/><line x1="160.7" y1="551" x2="165.3" y2="551" stroke="#555" stroke-width="0.9"/><line x1="160.7" y1="560" x2="165.3" y2="560" stroke="#555" stroke-width="0.9"/>
<line x1="129" y1="482" x2="129" y2="495" stroke="#555" stroke-width="0.9"/><line x1="126.7" y1="482" x2="131.3" y2="482" stroke="#555" stroke-width="0.9"/><line x1="126.7" y1="495" x2="131.3" y2="495" stroke="#555" stroke-width="0.9"/>
<line x1="146" y1="482" x2="146" y2="494" stroke="#555" stroke-width="0.9"/><line x1="143.7" y1="482" x2="148.3" y2="482" stroke="#555" stroke-width="0.9"/><line x1="143.7" y1="494" x2="148.3" y2="494" stroke="#555" stroke-width="0.9"/>
<line x1="163" y1="489.5" x2="163" y2="508.8" stroke="#555" stroke-width="0.9"/><line x1="160.7" y1="489.5" x2="165.3" y2="489.5" stroke="#555" stroke-width="0.9"/><line x1="160.7" y1="508.8" x2="165.3" y2="508.8" stroke="#555" stroke-width="0.9"/>
<line x1="180" y1="512.5" x2="180" y2="532.5" stroke="#555" stroke-width="0.9"/><line x1="177.7" y1="512.5" x2="182.3" y2="512.5" stroke="#555" stroke-width="0.9"/><line x1="177.7" y1="532.5" x2="182.3" y2="532.5" stroke="#555" stroke-width="0.9"/>
<line x1="197" y1="544" x2="197" y2="554" stroke="#555" stroke-width="0.9"/><line x1="194.7" y1="544" x2="199.3" y2="544" stroke="#555" stroke-width="0.9"/><line x1="194.7" y1="554" x2="199.3" y2="554" stroke="#555" stroke-width="0.9"/>
<line x1="213.7" y1="557.5" x2="213.7" y2="565" stroke="#555" stroke-width="0.9"/><line x1="211.4" y1="557.5" x2="216" y2="557.5" stroke="#555" stroke-width="0.9"/><line x1="211.4" y1="565" x2="216" y2="565" stroke="#555" stroke-width="0.9"/>
<rect x="126.25" y="496.75" width="5.5" height="5.5" fill="#5a88c4" stroke="#1d3557" stroke-width="1"/><circle cx="129" cy="499.5" r="0.9" fill="#1d3557"/>
<rect x="143.25" y="505.25" width="5.5" height="5.5" fill="#5a88c4" stroke="#1d3557" stroke-width="1"/><circle cx="146" cy="508" r="0.9" fill="#1d3557"/>
<rect x="160.25" y="535.55" width="5.5" height="5.5" fill="#5a88c4" stroke="#1d3557" stroke-width="1"/><circle cx="163" cy="538.3" r="0.9" fill="#1d3557"/>
<rect x="177.25" y="544.25" width="5.5" height="5.5" fill="#5a88c4" stroke="#1d3557" stroke-width="1"/><circle cx="180" cy="547" r="0.9" fill="#1d3557"/>
<rect x="194.25" y="551.75" width="5.5" height="5.5" fill="#5a88c4" stroke="#1d3557" stroke-width="1"/><circle cx="197" cy="554.5" r="0.9" fill="#1d3557"/>
<rect x="210.95" y="557.25" width="5.5" height="5.5" fill="#5a88c4" stroke="#1d3557" stroke-width="1"/><circle cx="213.7" cy="560" r="0.9" fill="#1d3557"/>
<rect x="227.95" y="570.05" width="5.5" height="5.5" fill="#5a88c4" stroke="#1d3557" stroke-width="1"/><circle cx="230.7" cy="572.8" r="0.9" fill="#1d3557"/>
<rect x="126.25" y="498.05" width="5.5" height="5.5" fill="#4f7db8" stroke="#1d3557" stroke-width="1"/><path d="M127.05 498.85L130.95 502.75M130.95 498.85L127.05 502.75" stroke="#1d3557" stroke-width="1.1"/>
<rect x="143.25" y="514.25" width="5.5" height="5.5" fill="#4f7db8" stroke="#1d3557" stroke-width="1"/><path d="M144.05 515.05L147.95 518.95M147.95 515.05L144.05 518.95" stroke="#1d3557" stroke-width="1.1"/>
<rect x="160.25" y="552.25" width="5.5" height="5.5" fill="#4f7db8" stroke="#1d3557" stroke-width="1"/><path d="M161.05 553.05L164.95 556.95M164.95 553.05L161.05 556.95" stroke="#1d3557" stroke-width="1.1"/>
<rect x="177.25" y="561.05" width="5.5" height="5.5" fill="#4f7db8" stroke="#1d3557" stroke-width="1"/><path d="M178.05 561.85L181.95 565.75M181.95 561.85L178.05 565.75" stroke="#1d3557" stroke-width="1.1"/>
<rect x="194.25" y="564.75" width="5.5" height="5.5" fill="#4f7db8" stroke="#1d3557" stroke-width="1"/><path d="M195.05 565.55L198.95 569.45M198.95 565.55L195.05 569.45" stroke="#1d3557" stroke-width="1.1"/>
<rect x="210.95" y="568.55" width="5.5" height="5.5" fill="#4f7db8" stroke="#1d3557" stroke-width="1"/><path d="M211.75 569.35L215.65 573.25M215.65 569.35L211.75 573.25" stroke="#1d3557" stroke-width="1.1"/>
<rect x="227.95" y="570.55" width="5.5" height="5.5" fill="#4f7db8" stroke="#1d3557" stroke-width="1"/><path d="M228.75 571.35L232.65 575.25M232.65 571.35L228.75 575.25" stroke="#1d3557" stroke-width="1.1"/>
<rect x="126.25" y="485.95" width="5.5" height="5.5" fill="#dcdcdc" stroke="#8a8a8a" stroke-width="0.9"/>
<rect x="143.25" y="485.25" width="5.5" height="5.5" fill="#dcdcdc" stroke="#8a8a8a" stroke-width="0.9"/>
<rect x="160.25" y="496.55" width="5.5" height="5.5" fill="#dcdcdc" stroke="#8a8a8a" stroke-width="0.9"/>
<rect x="177.25" y="519.75" width="5.5" height="5.5" fill="#dcdcdc" stroke="#8a8a8a" stroke-width="0.9"/>
<rect x="194.25" y="546.75" width="5.5" height="5.5" fill="#dcdcdc" stroke="#8a8a8a" stroke-width="0.9"/>
<rect x="210.95" y="558.55" width="5.5" height="5.5" fill="#dcdcdc" stroke="#8a8a8a" stroke-width="0.9"/>
<rect x="227.95" y="568.55" width="5.5" height="5.5" fill="#dcdcdc" stroke="#8a8a8a" stroke-width="0.9"/>
<rect x="64.75" y="473.11" width="5.5" height="5.5" fill="#dcdcdc" stroke="#8a8a8a" stroke-width="0.9"/>
<line x1="70.9" y1="475.86" x2="72.7" y2="475.86" stroke="#1a1a1a" stroke-width="1.2"/>
<line x1="331" y1="25.2" x2="331" y2="166.8" stroke="#222" stroke-width="1.2"/>
<line x1="327.8" y1="163.8" x2="331" y2="163.8" stroke="#222" stroke-width="1"/>
<text x="319.95" y="166.5" textLength="4.45" lengthAdjust="spacingAndGlyphs" class="tk">0</text>
<line x1="329.4" y1="153.94" x2="331" y2="153.94" stroke="#222" stroke-width="1"/>
<line x1="327.8" y1="144.09" x2="331" y2="144.09" stroke="#222" stroke-width="1"/>
<text x="315.5" y="146.79" textLength="8.9" lengthAdjust="spacingAndGlyphs" class="tk">20</text>
<line x1="329.4" y1="134.23" x2="331" y2="134.23" stroke="#222" stroke-width="1"/>
<line x1="327.8" y1="124.37" x2="331" y2="124.37" stroke="#222" stroke-width="1"/>
<text x="315.5" y="127.07" textLength="8.9" lengthAdjust="spacingAndGlyphs" class="tk">40</text>
<line x1="329.4" y1="114.51" x2="331" y2="114.51" stroke="#222" stroke-width="1"/>
<line x1="327.8" y1="104.66" x2="331" y2="104.66" stroke="#222" stroke-width="1"/>
<text x="315.5" y="107.36" textLength="8.9" lengthAdjust="spacingAndGlyphs" class="tk">60</text>
<line x1="329.4" y1="94.8" x2="331" y2="94.8" stroke="#222" stroke-width="1"/>
<line x1="327.8" y1="84.94" x2="331" y2="84.94" stroke="#222" stroke-width="1"/>
<text x="315.5" y="87.64" textLength="8.9" lengthAdjust="spacingAndGlyphs" class="tk">80</text>
<line x1="329.4" y1="75.09" x2="331" y2="75.09" stroke="#222" stroke-width="1"/>
<line x1="327.8" y1="65.23" x2="331" y2="65.23" stroke="#222" stroke-width="1"/>
<text x="311.05" y="67.93" textLength="13.35" lengthAdjust="spacingAndGlyphs" class="tk">100</text>
<line x1="329.4" y1="55.37" x2="331" y2="55.37" stroke="#222" stroke-width="1"/>
<line x1="327.8" y1="45.51" x2="331" y2="45.51" stroke="#222" stroke-width="1"/>
<text x="311.05" y="48.21" textLength="13.35" lengthAdjust="spacingAndGlyphs" class="tk">120</text>
<line x1="329.4" y1="35.66" x2="331" y2="35.66" stroke="#222" stroke-width="1"/>
<line x1="327.8" y1="25.8" x2="331" y2="25.8" stroke="#222" stroke-width="1"/>
<text x="311.05" y="28.5" textLength="13.35" lengthAdjust="spacingAndGlyphs" class="tk">140</text>
<line x1="331" y1="163.8" x2="336.3" y2="163.8" stroke="#222" stroke-width="1.2"/>
<line x1="336.3" y1="162.6" x2="336.3" y2="165" stroke="#222" stroke-width="0.8"/>
<line x1="342.7" y1="163.8" x2="513" y2="163.8" stroke="#222" stroke-width="1.2"/>
<line x1="342.7" y1="163.8" x2="342.7" y2="166.6" stroke="#222" stroke-width="0.9"/>
<line x1="366.78" y1="163.8" x2="366.78" y2="165.2" stroke="#222" stroke-width="0.9"/>
<line x1="380.87" y1="163.8" x2="380.87" y2="165.2" stroke="#222" stroke-width="0.9"/>
<line x1="390.86" y1="163.8" x2="390.86" y2="165.2" stroke="#222" stroke-width="0.9"/>
<line x1="398.62" y1="163.8" x2="398.62" y2="165.2" stroke="#222" stroke-width="0.9"/>
<line x1="404.95" y1="163.8" x2="404.95" y2="165.2" stroke="#222" stroke-width="0.9"/>
<line x1="410.31" y1="163.8" x2="410.31" y2="165.2" stroke="#222" stroke-width="0.9"/>
<line x1="414.95" y1="163.8" x2="414.95" y2="165.2" stroke="#222" stroke-width="0.9"/>
<line x1="419.04" y1="163.8" x2="419.04" y2="165.2" stroke="#222" stroke-width="0.9"/>
<line x1="422.7" y1="163.8" x2="422.7" y2="166.6" stroke="#222" stroke-width="0.9"/>
<line x1="446.78" y1="163.8" x2="446.78" y2="165.2" stroke="#222" stroke-width="0.9"/>
<line x1="460.87" y1="163.8" x2="460.87" y2="165.2" stroke="#222" stroke-width="0.9"/>
<line x1="470.86" y1="163.8" x2="470.86" y2="165.2" stroke="#222" stroke-width="0.9"/>
<line x1="478.62" y1="163.8" x2="478.62" y2="165.2" stroke="#222" stroke-width="0.9"/>
<line x1="484.95" y1="163.8" x2="484.95" y2="165.2" stroke="#222" stroke-width="0.9"/>
<line x1="490.31" y1="163.8" x2="490.31" y2="165.2" stroke="#222" stroke-width="0.9"/>
<line x1="494.95" y1="163.8" x2="494.95" y2="165.2" stroke="#222" stroke-width="0.9"/>
<line x1="499.04" y1="163.8" x2="499.04" y2="165.2" stroke="#222" stroke-width="0.9"/>
<line x1="502.7" y1="163.8" x2="502.7" y2="166.6" stroke="#222" stroke-width="0.9"/>
<text x="340.47" y="177.2" textLength="4.45" lengthAdjust="spacingAndGlyphs" class="tk">1</text>
<text x="418.25" y="177.2" textLength="8.9" lengthAdjust="spacingAndGlyphs" class="tk">10</text>
<text x="496.02" y="177.2" textLength="13.35" lengthAdjust="spacingAndGlyphs" class="tk">100</text>
<text x="371" y="191.3" textLength="104.5" lengthAdjust="spacingAndGlyphs" class="ttl">Concentration imatinib (µM)</text>
<text transform="translate(291.3,92.8) rotate(-90)" x="-24.6" y="0" textLength="49.2" lengthAdjust="spacingAndGlyphs" class="ttl">% Viable cells</text>
<text transform="translate(303.5,92.8) rotate(-90)" x="-39.8" y="0" textLength="79.6" lengthAdjust="spacingAndGlyphs" class="ttl">(exposed/unexposed)</text>
<line x1="334" y1="114.51" x2="511" y2="114.51" stroke="#555" stroke-width="0.8" stroke-dasharray="1.1 1.85"/>
<text x="270.6" y="16.1" class="pl">D</text>
<path d="M331 65.23 L365.8 74.5 L414.1 79 L463.3 125 L511 160.5" fill="none" stroke="#111" stroke-width="1.1"/>
<path d="M331 65.23 L365.8 86.7 L414.1 105.5 L463.3 118.8 L511 159" fill="none" stroke="#111" stroke-width="1.1"/>
<path d="M331 65.23 L365.8 92.9 L414.1 84.3 L463.3 89.7 L511 158" fill="none" stroke="#111" stroke-width="1.1"/>
<path d="M331 65.23 L365.8 98.4 L414.1 90.1 L463.3 95.8 L511 160" fill="none" stroke="#111" stroke-width="1.1"/>
<path d="M331 65.23 L365.8 98.4 L414.1 95.8 L463.3 107.9 L511 159.5" fill="none" stroke="#111" stroke-width="1.1"/>
<path d="M331 65.23 L365.8 104.2 L414.1 105.2 L463.3 85 L511 161" fill="none" stroke="#111" stroke-width="1.1"/>
<path d="M331 65.23 L365.8 118.1 L414.1 106.7 L463.3 118.8 L511 160" fill="none" stroke="#111" stroke-width="1.1"/>
<path d="M331 65.23 L365.8 126 L414.1 128.7 L463.3 138.8 L511 160.5" fill="none" stroke="#111" stroke-width="1.1"/>
<path d="M331 65.23 L365.8 121 L414.1 125 L463.3 144 L511 161" fill="none" stroke="#111" stroke-width="1.1"/>
<path d="M331 65.23 L365.8 99 L414.1 107 L463.3 113.3 L511 160" fill="none" stroke="#111" stroke-width="1.1"/>
<path d="M331 65.23 L365.8 63.6 L414.1 58.3 L463.3 77.6 L511 160.5" fill="none" stroke="#111" stroke-width="1.1"/>
<path d="M331 65.23 L365.8 74.2 L414.1 72.9 L463.3 85 L511 163" fill="none" stroke="#111" stroke-width="1.1"/>
<path d="M331 65.23 L365.8 124.5 L414.1 123 L463.3 132.5 L511 156" fill="none" stroke="#111" stroke-width="1.1"/>
<path d="M331 65.23 L365.8 126.5 L414.1 123 L463.3 135.7 L511 162" fill="none" stroke="#111" stroke-width="1.1"/>
<path d="M331 65.23 L365.8 151.5 L414.1 145.8 L463.3 132.8 L511 155.8" fill="none" stroke="#111" stroke-width="1.1"/>
<rect x="336.9" y="20.8" width="6" height="142" fill="#fff"/>
<path d="M365.8 71.5L368.8 77L362.8 77Z" fill="#dedede" stroke="#8a8a8a" stroke-width="0.9"/>
<path d="M414.1 76L417.1 81.5L411.1 81.5Z" fill="#dedede" stroke="#8a8a8a" stroke-width="0.9"/>
<path d="M463.3 122L466.3 127.5L460.3 127.5Z" fill="#dedede" stroke="#8a8a8a" stroke-width="0.9"/>
<path d="M511 157.5L514 163L508 163Z" fill="#dedede" stroke="#8a8a8a" stroke-width="0.9"/>
<circle cx="365.8" cy="86.7" r="2.75" fill="#dedede" stroke="#8a8a8a" stroke-width="0.9"/>
<circle cx="414.1" cy="105.5" r="2.75" fill="#dedede" stroke="#8a8a8a" stroke-width="0.9"/>
<circle cx="463.3" cy="118.8" r="2.75" fill="#dedede" stroke="#8a8a8a" stroke-width="0.9"/>
<circle cx="511" cy="159" r="2.75" fill="#dedede" stroke="#8a8a8a" stroke-width="0.9"/>
<circle cx="365.8" cy="92.9" r="2.75" fill="#dedede" stroke="#8a8a8a" stroke-width="0.9"/>
<circle cx="414.1" cy="84.3" r="2.75" fill="#dedede" stroke="#8a8a8a" stroke-width="0.9"/>
<circle cx="463.3" cy="89.7" r="2.75" fill="#dedede" stroke="#8a8a8a" stroke-width="0.9"/>
<circle cx="511" cy="158" r="2.75" fill="#dedede" stroke="#8a8a8a" stroke-width="0.9"/>
<circle cx="365.8" cy="98.4" r="2.75" fill="#dedede" stroke="#8a8a8a" stroke-width="0.9"/>
<circle cx="414.1" cy="90.1" r="2.75" fill="#dedede" stroke="#8a8a8a" stroke-width="0.9"/>
<circle cx="463.3" cy="95.8" r="2.75" fill="#dedede" stroke="#8a8a8a" stroke-width="0.9"/>
<circle cx="511" cy="160" r="2.75" fill="#dedede" stroke="#8a8a8a" stroke-width="0.9"/>
<circle cx="365.8" cy="98.4" r="2.75" fill="#dedede" stroke="#8a8a8a" stroke-width="0.9"/>
<circle cx="414.1" cy="95.8" r="2.75" fill="#dedede" stroke="#8a8a8a" stroke-width="0.9"/>
<circle cx="463.3" cy="107.9" r="2.75" fill="#dedede" stroke="#8a8a8a" stroke-width="0.9"/>
<circle cx="511" cy="159.5" r="2.75" fill="#dedede" stroke="#8a8a8a" stroke-width="0.9"/>
<rect x="363.05" y="101.45" width="5.5" height="5.5" fill="#dcdcdc" stroke="#8a8a8a" stroke-width="0.9"/>
<rect x="411.35" y="102.45" width="5.5" height="5.5" fill="#dcdcdc" stroke="#8a8a8a" stroke-width="0.9"/>
<rect x="460.55" y="82.25" width="5.5" height="5.5" fill="#dcdcdc" stroke="#8a8a8a" stroke-width="0.9"/>
<rect x="508.25" y="158.25" width="5.5" height="5.5" fill="#dcdcdc" stroke="#8a8a8a" stroke-width="0.9"/>
<circle cx="365.8" cy="118.1" r="2.75" fill="#dedede" stroke="#8a8a8a" stroke-width="0.9"/>
<circle cx="414.1" cy="106.7" r="2.75" fill="#dedede" stroke="#8a8a8a" stroke-width="0.9"/>
<circle cx="463.3" cy="118.8" r="2.75" fill="#dedede" stroke="#8a8a8a" stroke-width="0.9"/>
<circle cx="511" cy="160" r="2.75" fill="#dedede" stroke="#8a8a8a" stroke-width="0.9"/>
<circle cx="365.8" cy="126" r="2.75" fill="#dedede" stroke="#8a8a8a" stroke-width="0.9"/>
<circle cx="414.1" cy="128.7" r="2.75" fill="#dedede" stroke="#8a8a8a" stroke-width="0.9"/>
<circle cx="463.3" cy="138.8" r="2.75" fill="#dedede" stroke="#8a8a8a" stroke-width="0.9"/>
<circle cx="511" cy="160.5" r="2.75" fill="#dedede" stroke="#8a8a8a" stroke-width="0.9"/>
<circle cx="365.8" cy="121" r="2.75" fill="#dedede" stroke="#8a8a8a" stroke-width="0.9"/>
<circle cx="414.1" cy="125" r="2.75" fill="#dedede" stroke="#8a8a8a" stroke-width="0.9"/>
<circle cx="463.3" cy="144" r="2.75" fill="#dedede" stroke="#8a8a8a" stroke-width="0.9"/>
<circle cx="511" cy="161" r="2.75" fill="#dedede" stroke="#8a8a8a" stroke-width="0.9"/>
<circle cx="365.8" cy="99" r="2.75" fill="#dedede" stroke="#8a8a8a" stroke-width="0.9"/>
<circle cx="414.1" cy="107" r="2.75" fill="#dedede" stroke="#8a8a8a" stroke-width="0.9"/>
<circle cx="463.3" cy="113.3" r="2.75" fill="#dedede" stroke="#8a8a8a" stroke-width="0.9"/>
<circle cx="511" cy="160" r="2.75" fill="#dedede" stroke="#8a8a8a" stroke-width="0.9"/>
<rect x="363.05" y="60.85" width="5.5" height="5.5" fill="#4f81bd" stroke="#26497a" stroke-width="0.95"/>
<rect x="411.35" y="55.55" width="5.5" height="5.5" fill="#4f81bd" stroke="#26497a" stroke-width="0.95"/>
<rect x="460.55" y="74.85" width="5.5" height="5.5" fill="#4f81bd" stroke="#26497a" stroke-width="0.95"/>
<rect x="508.25" y="157.75" width="5.5" height="5.5" fill="#4f81bd" stroke="#26497a" stroke-width="0.95"/>
<rect x="363.05" y="71.45" width="5.5" height="5.5" fill="#4f81bd" stroke="#26497a" stroke-width="0.95"/>
<rect x="411.35" y="70.15" width="5.5" height="5.5" fill="#4f81bd" stroke="#26497a" stroke-width="0.95"/>
<rect x="460.55" y="82.25" width="5.5" height="5.5" fill="#4f81bd" stroke="#26497a" stroke-width="0.95"/>
<rect x="508.25" y="160.25" width="5.5" height="5.5" fill="#4f81bd" stroke="#26497a" stroke-width="0.95"/>
<rect x="363.05" y="121.75" width="5.5" height="5.5" fill="#4f81bd" stroke="#26497a" stroke-width="0.95"/>
<rect x="411.35" y="120.25" width="5.5" height="5.5" fill="#4f81bd" stroke="#26497a" stroke-width="0.95"/>
<rect x="460.55" y="129.75" width="5.5" height="5.5" fill="#4f81bd" stroke="#26497a" stroke-width="0.95"/>
<rect x="508.25" y="153.25" width="5.5" height="5.5" fill="#4f81bd" stroke="#26497a" stroke-width="0.95"/>
<rect x="363.05" y="123.75" width="5.5" height="5.5" fill="#4f81bd" stroke="#26497a" stroke-width="0.95"/>
<rect x="411.35" y="120.25" width="5.5" height="5.5" fill="#4f81bd" stroke="#26497a" stroke-width="0.95"/>
<rect x="460.55" y="132.95" width="5.5" height="5.5" fill="#4f81bd" stroke="#26497a" stroke-width="0.95"/>
<rect x="508.25" y="159.25" width="5.5" height="5.5" fill="#4f81bd" stroke="#26497a" stroke-width="0.95"/>
<rect x="363.05" y="148.75" width="5.5" height="5.5" fill="#4f81bd" stroke="#26497a" stroke-width="0.95"/>
<rect x="411.35" y="143.05" width="5.5" height="5.5" fill="#4f81bd" stroke="#26497a" stroke-width="0.95"/>
<rect x="460.55" y="130.05" width="5.5" height="5.5" fill="#4f81bd" stroke="#26497a" stroke-width="0.95"/>
<rect x="508.25" y="153.05" width="5.5" height="5.5" fill="#4f81bd" stroke="#26497a" stroke-width="0.95"/>
<rect x="328.25" y="62.48" width="5.5" height="5.5" fill="#4f81bd" stroke="#26497a" stroke-width="0.95"/>
<line x1="334.4" y1="65.23" x2="336.2" y2="65.23" stroke="#1a1a1a" stroke-width="1.2"/>
<line x1="329.3" y1="230" x2="329.3" y2="372.4" stroke="#222" stroke-width="1.2"/>
<line x1="326.1" y1="369.4" x2="329.3" y2="369.4" stroke="#222" stroke-width="1"/>
<text x="318.25" y="372.1" textLength="4.45" lengthAdjust="spacingAndGlyphs" class="tk">0</text>
<line x1="327.7" y1="359.49" x2="329.3" y2="359.49" stroke="#222" stroke-width="1"/>
<line x1="326.1" y1="349.57" x2="329.3" y2="349.57" stroke="#222" stroke-width="1"/>
<text x="313.8" y="352.27" textLength="8.9" lengthAdjust="spacingAndGlyphs" class="tk">20</text>
<line x1="327.7" y1="339.66" x2="329.3" y2="339.66" stroke="#222" stroke-width="1"/>
<line x1="326.1" y1="329.74" x2="329.3" y2="329.74" stroke="#222" stroke-width="1"/>
<text x="313.8" y="332.44" textLength="8.9" lengthAdjust="spacingAndGlyphs" class="tk">40</text>
<line x1="327.7" y1="319.83" x2="329.3" y2="319.83" stroke="#222" stroke-width="1"/>
<line x1="326.1" y1="309.91" x2="329.3" y2="309.91" stroke="#222" stroke-width="1"/>
<text x="313.8" y="312.61" textLength="8.9" lengthAdjust="spacingAndGlyphs" class="tk">60</text>
<line x1="327.7" y1="300" x2="329.3" y2="300" stroke="#222" stroke-width="1"/>
<line x1="326.1" y1="290.09" x2="329.3" y2="290.09" stroke="#222" stroke-width="1"/>
<text x="313.8" y="292.79" textLength="8.9" lengthAdjust="spacingAndGlyphs" class="tk">80</text>
<line x1="327.7" y1="280.17" x2="329.3" y2="280.17" stroke="#222" stroke-width="1"/>
<line x1="326.1" y1="270.26" x2="329.3" y2="270.26" stroke="#222" stroke-width="1"/>
<text x="309.35" y="272.96" textLength="13.35" lengthAdjust="spacingAndGlyphs" class="tk">100</text>
<line x1="327.7" y1="260.34" x2="329.3" y2="260.34" stroke="#222" stroke-width="1"/>
<line x1="326.1" y1="250.43" x2="329.3" y2="250.43" stroke="#222" stroke-width="1"/>
<text x="309.35" y="253.13" textLength="13.35" lengthAdjust="spacingAndGlyphs" class="tk">120</text>
<line x1="327.7" y1="240.51" x2="329.3" y2="240.51" stroke="#222" stroke-width="1"/>
<line x1="326.1" y1="230.6" x2="329.3" y2="230.6" stroke="#222" stroke-width="1"/>
<text x="309.35" y="233.3" textLength="13.35" lengthAdjust="spacingAndGlyphs" class="tk">140</text>
<line x1="329.3" y1="369.4" x2="334.8" y2="369.4" stroke="#222" stroke-width="1.2"/>
<line x1="334.8" y1="368.2" x2="334.8" y2="370.6" stroke="#222" stroke-width="0.8"/>
<line x1="340.7" y1="369.4" x2="513" y2="369.4" stroke="#222" stroke-width="1.2"/>
<line x1="340.8" y1="369.4" x2="340.8" y2="372.2" stroke="#222" stroke-width="0.9"/>
<line x1="364.88" y1="369.4" x2="364.88" y2="370.8" stroke="#222" stroke-width="0.9"/>
<line x1="378.97" y1="369.4" x2="378.97" y2="370.8" stroke="#222" stroke-width="0.9"/>
<line x1="388.96" y1="369.4" x2="388.96" y2="370.8" stroke="#222" stroke-width="0.9"/>
<line x1="396.72" y1="369.4" x2="396.72" y2="370.8" stroke="#222" stroke-width="0.9"/>
<line x1="403.05" y1="369.4" x2="403.05" y2="370.8" stroke="#222" stroke-width="0.9"/>
<line x1="408.41" y1="369.4" x2="408.41" y2="370.8" stroke="#222" stroke-width="0.9"/>
<line x1="413.05" y1="369.4" x2="413.05" y2="370.8" stroke="#222" stroke-width="0.9"/>
<line x1="417.14" y1="369.4" x2="417.14" y2="370.8" stroke="#222" stroke-width="0.9"/>
<line x1="420.8" y1="369.4" x2="420.8" y2="372.2" stroke="#222" stroke-width="0.9"/>
<line x1="444.88" y1="369.4" x2="444.88" y2="370.8" stroke="#222" stroke-width="0.9"/>
<line x1="458.97" y1="369.4" x2="458.97" y2="370.8" stroke="#222" stroke-width="0.9"/>
<line x1="468.96" y1="369.4" x2="468.96" y2="370.8" stroke="#222" stroke-width="0.9"/>
<line x1="476.72" y1="369.4" x2="476.72" y2="370.8" stroke="#222" stroke-width="0.9"/>
<line x1="483.05" y1="369.4" x2="483.05" y2="370.8" stroke="#222" stroke-width="0.9"/>
<line x1="488.41" y1="369.4" x2="488.41" y2="370.8" stroke="#222" stroke-width="0.9"/>
<line x1="493.05" y1="369.4" x2="493.05" y2="370.8" stroke="#222" stroke-width="0.9"/>
<line x1="497.14" y1="369.4" x2="497.14" y2="370.8" stroke="#222" stroke-width="0.9"/>
<line x1="500.8" y1="369.4" x2="500.8" y2="372.2" stroke="#222" stroke-width="0.9"/>
<text x="338.57" y="382.8" textLength="4.45" lengthAdjust="spacingAndGlyphs" class="tk">1</text>
<text x="416.35" y="382.8" textLength="8.9" lengthAdjust="spacingAndGlyphs" class="tk">10</text>
<text x="494.12" y="382.8" textLength="13.35" lengthAdjust="spacingAndGlyphs" class="tk">100</text>
<text x="368.8" y="396.5" textLength="105.5" lengthAdjust="spacingAndGlyphs" class="ttl">Concentration dasatinib (nM)</text>
<text transform="translate(289.6,298) rotate(-90)" x="-24.6" y="0" textLength="49.2" lengthAdjust="spacingAndGlyphs" class="ttl">% Viable cells</text>
<text transform="translate(301.8,298) rotate(-90)" x="-39.8" y="0" textLength="79.6" lengthAdjust="spacingAndGlyphs" class="ttl">(exposed/unexposed)</text>
<line x1="332.3" y1="319.83" x2="511" y2="319.83" stroke="#555" stroke-width="0.8" stroke-dasharray="1.1 1.85"/>
<text x="271" y="221.6" class="pl">E</text>
<path d="M329.3 270.26 L364.3 260.6 L412.6 261.9 L461.6 276.25 L509.4 290.5" fill="none" stroke="#111" stroke-width="1.1"/>
<path d="M329.3 270.26 L364.3 268.6 L412.6 267.5 L461.6 267.5 L509.4 303.8" fill="none" stroke="#111" stroke-width="1.1"/>
<path d="M329.3 270.26 L364.3 272.8 L412.6 280.6 L461.6 263.75 L509.4 277.7" fill="none" stroke="#111" stroke-width="1.1"/>
<path d="M329.3 270.26 L364.3 288 L412.6 295 L461.6 305 L509.4 311.4" fill="none" stroke="#111" stroke-width="1.1"/>
<path d="M329.3 270.26 L364.3 284.9 L412.6 284.4 L461.6 295 L509.4 299.8" fill="none" stroke="#111" stroke-width="1.1"/>
<path d="M329.3 270.26 L364.3 276 L412.6 299.4 L461.6 320 L509.4 324.8" fill="none" stroke="#111" stroke-width="1.1"/>
<path d="M329.3 270.26 L364.3 282 L412.6 290 L461.6 308.75 L509.4 315.5" fill="none" stroke="#111" stroke-width="1.1"/>
<path d="M329.3 270.26 L364.3 286 L412.6 284.4 L461.6 299.4 L509.4 307.3" fill="none" stroke="#111" stroke-width="1.1"/>
<path d="M329.3 270.26 L364.3 287.5 L412.6 290.6 L461.6 290.6 L509.4 324.8" fill="none" stroke="#111" stroke-width="1.1"/>
<path d="M329.3 270.26 L364.3 276.4 L412.6 271.9 L461.6 263.75 L509.4 262.6" fill="none" stroke="#111" stroke-width="1.1"/>
<path d="M329.3 270.26 L364.3 280.7 L412.6 290 L461.6 286.25 L509.4 270.1" fill="none" stroke="#111" stroke-width="1.1"/>
<path d="M329.3 270.26 L364.3 284.9 L412.6 272 L461.6 286.25 L509.4 270.1" fill="none" stroke="#111" stroke-width="1.1"/>
<path d="M329.3 270.26 L364.3 328 L412.6 343 L461.6 355 L509.4 369" fill="none" stroke="#111" stroke-width="1.1"/>
<path d="M329.3 270.26 L364.3 334 L412.6 353 L461.6 357 L509.4 361" fill="none" stroke="#111" stroke-width="1.1"/>
<rect x="335.4" y="225.6" width="5.5" height="142.8" fill="#fff"/>
<circle cx="364.3" cy="260.6" r="2.75" fill="#dedede" stroke="#8a8a8a" stroke-width="0.9"/>
<circle cx="412.6" cy="261.9" r="2.75" fill="#dedede" stroke="#8a8a8a" stroke-width="0.9"/>
<circle cx="461.6" cy="276.25" r="2.75" fill="#dedede" stroke="#8a8a8a" stroke-width="0.9"/>
<circle cx="509.4" cy="290.5" r="2.75" fill="#dedede" stroke="#8a8a8a" stroke-width="0.9"/>
<circle cx="364.3" cy="268.6" r="2.75" fill="#dedede" stroke="#8a8a8a" stroke-width="0.9"/>
<circle cx="412.6" cy="267.5" r="2.75" fill="#dedede" stroke="#8a8a8a" stroke-width="0.9"/>
<circle cx="461.6" cy="267.5" r="2.75" fill="#dedede" stroke="#8a8a8a" stroke-width="0.9"/>
<circle cx="509.4" cy="303.8" r="2.75" fill="#dedede" stroke="#8a8a8a" stroke-width="0.9"/>
<circle cx="364.3" cy="272.8" r="2.75" fill="#dedede" stroke="#8a8a8a" stroke-width="0.9"/>
<circle cx="412.6" cy="280.6" r="2.75" fill="#dedede" stroke="#8a8a8a" stroke-width="0.9"/>
<circle cx="461.6" cy="263.75" r="2.75" fill="#dedede" stroke="#8a8a8a" stroke-width="0.9"/>
<circle cx="509.4" cy="277.7" r="2.75" fill="#dedede" stroke="#8a8a8a" stroke-width="0.9"/>
<rect x="361.55" y="285.25" width="5.5" height="5.5" fill="#dcdcdc" stroke="#8a8a8a" stroke-width="0.9"/>
<rect x="409.85" y="292.25" width="5.5" height="5.5" fill="#dcdcdc" stroke="#8a8a8a" stroke-width="0.9"/>
<rect x="458.85" y="302.25" width="5.5" height="5.5" fill="#dcdcdc" stroke="#8a8a8a" stroke-width="0.9"/>
<rect x="506.65" y="308.65" width="5.5" height="5.5" fill="#dcdcdc" stroke="#8a8a8a" stroke-width="0.9"/>
<circle cx="364.3" cy="284.9" r="2.75" fill="#dedede" stroke="#8a8a8a" stroke-width="0.9"/>
<circle cx="412.6" cy="284.4" r="2.75" fill="#dedede" stroke="#8a8a8a" stroke-width="0.9"/>
<circle cx="461.6" cy="295" r="2.75" fill="#dedede" stroke="#8a8a8a" stroke-width="0.9"/>
<circle cx="509.4" cy="299.8" r="2.75" fill="#dedede" stroke="#8a8a8a" stroke-width="0.9"/>
<circle cx="364.3" cy="276" r="2.75" fill="#dedede" stroke="#8a8a8a" stroke-width="0.9"/>
<circle cx="412.6" cy="299.4" r="2.75" fill="#dedede" stroke="#8a8a8a" stroke-width="0.9"/>
<circle cx="461.6" cy="320" r="2.75" fill="#dedede" stroke="#8a8a8a" stroke-width="0.9"/>
<circle cx="509.4" cy="324.8" r="2.75" fill="#dedede" stroke="#8a8a8a" stroke-width="0.9"/>
<rect x="361.55" y="279.25" width="5.5" height="5.5" fill="#dcdcdc" stroke="#8a8a8a" stroke-width="0.9"/>
<rect x="409.85" y="287.25" width="5.5" height="5.5" fill="#dcdcdc" stroke="#8a8a8a" stroke-width="0.9"/>
<rect x="458.85" y="306" width="5.5" height="5.5" fill="#dcdcdc" stroke="#8a8a8a" stroke-width="0.9"/>
<rect x="506.65" y="312.75" width="5.5" height="5.5" fill="#dcdcdc" stroke="#8a8a8a" stroke-width="0.9"/>
<circle cx="364.3" cy="286" r="2.75" fill="#dedede" stroke="#8a8a8a" stroke-width="0.9"/>
<circle cx="412.6" cy="284.4" r="2.75" fill="#dedede" stroke="#8a8a8a" stroke-width="0.9"/>
<circle cx="461.6" cy="299.4" r="2.75" fill="#dedede" stroke="#8a8a8a" stroke-width="0.9"/>
<circle cx="509.4" cy="307.3" r="2.75" fill="#dedede" stroke="#8a8a8a" stroke-width="0.9"/>
<circle cx="364.3" cy="287.5" r="2.75" fill="#dedede" stroke="#8a8a8a" stroke-width="0.9"/>
<circle cx="412.6" cy="290.6" r="2.75" fill="#dedede" stroke="#8a8a8a" stroke-width="0.9"/>
<circle cx="461.6" cy="290.6" r="2.75" fill="#dedede" stroke="#8a8a8a" stroke-width="0.9"/>
<circle cx="509.4" cy="324.8" r="2.75" fill="#dedede" stroke="#8a8a8a" stroke-width="0.9"/>
<rect x="361.55" y="273.65" width="5.5" height="5.5" fill="#4f81bd" stroke="#26497a" stroke-width="0.95"/>
<rect x="409.85" y="269.15" width="5.5" height="5.5" fill="#4f81bd" stroke="#26497a" stroke-width="0.95"/>
<rect x="458.85" y="261" width="5.5" height="5.5" fill="#4f81bd" stroke="#26497a" stroke-width="0.95"/>
<rect x="506.65" y="259.85" width="5.5" height="5.5" fill="#4f81bd" stroke="#26497a" stroke-width="0.95"/>
<rect x="361.55" y="277.95" width="5.5" height="5.5" fill="#4f81bd" stroke="#26497a" stroke-width="0.95"/>
<rect x="409.85" y="287.25" width="5.5" height="5.5" fill="#4f81bd" stroke="#26497a" stroke-width="0.95"/>
<rect x="458.85" y="283.5" width="5.5" height="5.5" fill="#4f81bd" stroke="#26497a" stroke-width="0.95"/>
<rect x="506.65" y="267.35" width="5.5" height="5.5" fill="#4f81bd" stroke="#26497a" stroke-width="0.95"/>
<rect x="361.55" y="282.15" width="5.5" height="5.5" fill="#4f81bd" stroke="#26497a" stroke-width="0.95"/>
<rect x="409.85" y="269.25" width="5.5" height="5.5" fill="#4f81bd" stroke="#26497a" stroke-width="0.95"/>
<rect x="458.85" y="283.5" width="5.5" height="5.5" fill="#4f81bd" stroke="#26497a" stroke-width="0.95"/>
<rect x="506.65" y="267.35" width="5.5" height="5.5" fill="#4f81bd" stroke="#26497a" stroke-width="0.95"/>
<rect x="361.55" y="325.25" width="5.5" height="5.5" fill="#4f81bd" stroke="#26497a" stroke-width="0.95"/>
<rect x="409.85" y="340.25" width="5.5" height="5.5" fill="#4f81bd" stroke="#26497a" stroke-width="0.95"/>
<rect x="458.85" y="352.25" width="5.5" height="5.5" fill="#4f81bd" stroke="#26497a" stroke-width="0.95"/>
<rect x="506.65" y="366.25" width="5.5" height="5.5" fill="#4f81bd" stroke="#26497a" stroke-width="0.95"/>
<rect x="361.55" y="331.25" width="5.5" height="5.5" fill="#4f81bd" stroke="#26497a" stroke-width="0.95"/>
<rect x="409.85" y="350.25" width="5.5" height="5.5" fill="#4f81bd" stroke="#26497a" stroke-width="0.95"/>
<rect x="458.85" y="354.25" width="5.5" height="5.5" fill="#4f81bd" stroke="#26497a" stroke-width="0.95"/>
<rect x="506.65" y="358.25" width="5.5" height="5.5" fill="#4f81bd" stroke="#26497a" stroke-width="0.95"/>
<rect x="326.55" y="267.51" width="5.5" height="5.5" fill="#4f81bd" stroke="#26497a" stroke-width="0.95"/>
<line x1="332.7" y1="270.26" x2="334.5" y2="270.26" stroke="#1a1a1a" stroke-width="1.2"/>
<line x1="329.1" y1="436.1" x2="329.1" y2="577.5" stroke="#222" stroke-width="1.2"/>
<line x1="325.9" y1="574.5" x2="329.1" y2="574.5" stroke="#222" stroke-width="1"/>
<text x="318.05" y="577.2" textLength="4.45" lengthAdjust="spacingAndGlyphs" class="tk">0</text>
<line x1="327.5" y1="564.66" x2="329.1" y2="564.66" stroke="#222" stroke-width="1"/>
<line x1="325.9" y1="554.81" x2="329.1" y2="554.81" stroke="#222" stroke-width="1"/>
<text x="313.6" y="557.51" textLength="8.9" lengthAdjust="spacingAndGlyphs" class="tk">20</text>
<line x1="327.5" y1="544.97" x2="329.1" y2="544.97" stroke="#222" stroke-width="1"/>
<line x1="325.9" y1="535.13" x2="329.1" y2="535.13" stroke="#222" stroke-width="1"/>
<text x="313.6" y="537.83" textLength="8.9" lengthAdjust="spacingAndGlyphs" class="tk">40</text>
<line x1="327.5" y1="525.29" x2="329.1" y2="525.29" stroke="#222" stroke-width="1"/>
<line x1="325.9" y1="515.44" x2="329.1" y2="515.44" stroke="#222" stroke-width="1"/>
<text x="313.6" y="518.14" textLength="8.9" lengthAdjust="spacingAndGlyphs" class="tk">60</text>
<line x1="327.5" y1="505.6" x2="329.1" y2="505.6" stroke="#222" stroke-width="1"/>
<line x1="325.9" y1="495.76" x2="329.1" y2="495.76" stroke="#222" stroke-width="1"/>
<text x="313.6" y="498.46" textLength="8.9" lengthAdjust="spacingAndGlyphs" class="tk">80</text>
<line x1="327.5" y1="485.91" x2="329.1" y2="485.91" stroke="#222" stroke-width="1"/>
<line x1="325.9" y1="476.07" x2="329.1" y2="476.07" stroke="#222" stroke-width="1"/>
<text x="309.15" y="478.77" textLength="13.35" lengthAdjust="spacingAndGlyphs" class="tk">100</text>
<line x1="327.5" y1="466.23" x2="329.1" y2="466.23" stroke="#222" stroke-width="1"/>
<line x1="325.9" y1="456.39" x2="329.1" y2="456.39" stroke="#222" stroke-width="1"/>
<text x="309.15" y="459.09" textLength="13.35" lengthAdjust="spacingAndGlyphs" class="tk">120</text>
<line x1="327.5" y1="446.54" x2="329.1" y2="446.54" stroke="#222" stroke-width="1"/>
<line x1="325.9" y1="436.7" x2="329.1" y2="436.7" stroke="#222" stroke-width="1"/>
<text x="309.15" y="439.4" textLength="13.35" lengthAdjust="spacingAndGlyphs" class="tk">140</text>
<line x1="329.1" y1="574.5" x2="334.4" y2="574.5" stroke="#222" stroke-width="1.2"/>
<line x1="334.4" y1="573.3" x2="334.4" y2="575.7" stroke="#222" stroke-width="0.8"/>
<line x1="340.4" y1="574.5" x2="512.6" y2="574.5" stroke="#222" stroke-width="1.2"/>
<line x1="361.63" y1="574.5" x2="361.63" y2="575.9" stroke="#222" stroke-width="0.9"/>
<line x1="374.57" y1="574.5" x2="374.57" y2="575.9" stroke="#222" stroke-width="0.9"/>
<line x1="383.75" y1="574.5" x2="383.75" y2="575.9" stroke="#222" stroke-width="0.9"/>
<line x1="390.87" y1="574.5" x2="390.87" y2="575.9" stroke="#222" stroke-width="0.9"/>
<line x1="396.69" y1="574.5" x2="396.69" y2="575.9" stroke="#222" stroke-width="0.9"/>
<line x1="401.61" y1="574.5" x2="401.61" y2="575.9" stroke="#222" stroke-width="0.9"/>
<line x1="405.88" y1="574.5" x2="405.88" y2="575.9" stroke="#222" stroke-width="0.9"/>
<line x1="409.64" y1="574.5" x2="409.64" y2="575.9" stroke="#222" stroke-width="0.9"/>
<line x1="413" y1="574.5" x2="413" y2="577.3" stroke="#222" stroke-width="0.9"/>
<line x1="435.13" y1="574.5" x2="435.13" y2="575.9" stroke="#222" stroke-width="0.9"/>
<line x1="448.07" y1="574.5" x2="448.07" y2="575.9" stroke="#222" stroke-width="0.9"/>
<line x1="457.25" y1="574.5" x2="457.25" y2="575.9" stroke="#222" stroke-width="0.9"/>
<line x1="464.37" y1="574.5" x2="464.37" y2="575.9" stroke="#222" stroke-width="0.9"/>
<line x1="470.19" y1="574.5" x2="470.19" y2="575.9" stroke="#222" stroke-width="0.9"/>
<line x1="475.11" y1="574.5" x2="475.11" y2="575.9" stroke="#222" stroke-width="0.9"/>
<line x1="479.38" y1="574.5" x2="479.38" y2="575.9" stroke="#222" stroke-width="0.9"/>
<line x1="483.14" y1="574.5" x2="483.14" y2="575.9" stroke="#222" stroke-width="0.9"/>
<line x1="486.5" y1="574.5" x2="486.5" y2="577.3" stroke="#222" stroke-width="0.9"/>
<line x1="508.63" y1="574.5" x2="508.63" y2="575.9" stroke="#222" stroke-width="0.9"/>
<text x="331.68" y="587.9" textLength="15.65" lengthAdjust="spacingAndGlyphs" class="tk">0.01</text>
<text x="407.4" y="587.9" textLength="11.2" lengthAdjust="spacingAndGlyphs" class="tk">0.1</text>
<text x="484.27" y="587.9" textLength="4.45" lengthAdjust="spacingAndGlyphs" class="tk">1</text>
<text x="367" y="602.1" textLength="108.3" lengthAdjust="spacingAndGlyphs" class="ttl">Concentration bosutinib (µM)</text>
<text transform="translate(289.4,503.6) rotate(-90)" x="-24.6" y="0" textLength="49.2" lengthAdjust="spacingAndGlyphs" class="ttl">% Viable cells</text>
<text transform="translate(301.6,503.6) rotate(-90)" x="-39.8" y="0" textLength="79.6" lengthAdjust="spacingAndGlyphs" class="ttl">(exposed/unexposed)</text>
<line x1="332.1" y1="525.29" x2="510.6" y2="525.29" stroke="#555" stroke-width="0.8" stroke-dasharray="1.1 1.85"/>
<text x="271" y="426.5" class="pl">F</text>
<path d="M329.1 476.07 L354.8 444.8 L406.3 449.2 L458 453.2 L508.8 452.7" fill="none" stroke="#111" stroke-width="1.1"/>
<path d="M329.1 476.07 L354.8 454.4 L406.3 463.5 L458 457.3 L508.8 468.8" fill="none" stroke="#111" stroke-width="1.1"/>
<path d="M329.1 476.07 L354.8 467.9 L406.3 481 L458 465 L508.8 475.8" fill="none" stroke="#111" stroke-width="1.1"/>
<path d="M329.1 476.07 L354.8 486.7 L406.3 487.8 L458 481 L508.8 522" fill="none" stroke="#111" stroke-width="1.1"/>
<path d="M329.1 476.07 L354.8 488 L406.3 472.3 L458 465 L508.8 486.7" fill="none" stroke="#111" stroke-width="1.1"/>
<path d="M329.1 476.07 L354.8 493 L406.3 476.2 L458 474.2 L508.8 494.2" fill="none" stroke="#111" stroke-width="1.1"/>
<path d="M329.1 476.07 L354.8 493.5 L406.3 493 L458 525.4 L508.8 531.2" fill="none" stroke="#111" stroke-width="1.1"/>
<path d="M329.1 476.07 L354.8 474.2 L406.3 474.6 L458 488.5 L508.8 511.5" fill="none" stroke="#111" stroke-width="1.1"/>
<path d="M329.1 476.07 L354.8 467.9 L406.3 472.3 L458 474.2 L508.8 462.4" fill="none" stroke="#111" stroke-width="1.1"/>
<path d="M329.1 476.07 L354.8 474.2 L406.3 474.6 L458 516.9 L508.8 531.2" fill="none" stroke="#111" stroke-width="1.1"/>
<path d="M329.1 476.07 L354.8 480.6 L406.3 501.8 L458 549.2 L508.8 548.2" fill="none" stroke="#111" stroke-width="1.1"/>
<path d="M329.1 476.07 L354.8 474.2 L406.3 476.2 L458 488.5 L508.8 483.8" fill="none" stroke="#111" stroke-width="1.1"/>
<rect x="335" y="431.7" width="5.6" height="141.8" fill="#fff"/>
<circle cx="354.8" cy="444.8" r="2.75" fill="#dedede" stroke="#8a8a8a" stroke-width="0.9"/>
<circle cx="406.3" cy="449.2" r="2.75" fill="#dedede" stroke="#8a8a8a" stroke-width="0.9"/>
<circle cx="458" cy="453.2" r="2.75" fill="#dedede" stroke="#8a8a8a" stroke-width="0.9"/>
<circle cx="508.8" cy="452.7" r="2.75" fill="#dedede" stroke="#8a8a8a" stroke-width="0.9"/>
<circle cx="354.8" cy="454.4" r="2.75" fill="#dedede" stroke="#8a8a8a" stroke-width="0.9"/>
<circle cx="406.3" cy="463.5" r="2.75" fill="#dedede" stroke="#8a8a8a" stroke-width="0.9"/>
<circle cx="458" cy="457.3" r="2.75" fill="#dedede" stroke="#8a8a8a" stroke-width="0.9"/>
<circle cx="508.8" cy="468.8" r="2.75" fill="#dedede" stroke="#8a8a8a" stroke-width="0.9"/>
<circle cx="354.8" cy="467.9" r="2.75" fill="#dedede" stroke="#8a8a8a" stroke-width="0.9"/>
<circle cx="406.3" cy="481" r="2.75" fill="#dedede" stroke="#8a8a8a" stroke-width="0.9"/>
<circle cx="458" cy="465" r="2.75" fill="#dedede" stroke="#8a8a8a" stroke-width="0.9"/>
<circle cx="508.8" cy="475.8" r="2.75" fill="#dedede" stroke="#8a8a8a" stroke-width="0.9"/>
<circle cx="354.8" cy="486.7" r="2.75" fill="#dedede" stroke="#8a8a8a" stroke-width="0.9"/>
<circle cx="406.3" cy="487.8" r="2.75" fill="#dedede" stroke="#8a8a8a" stroke-width="0.9"/>
<circle cx="458" cy="481" r="2.75" fill="#dedede" stroke="#8a8a8a" stroke-width="0.9"/>
<circle cx="508.8" cy="522" r="2.75" fill="#dedede" stroke="#8a8a8a" stroke-width="0.9"/>
<circle cx="354.8" cy="488" r="2.75" fill="#dedede" stroke="#8a8a8a" stroke-width="0.9"/>
<circle cx="406.3" cy="472.3" r="2.75" fill="#dedede" stroke="#8a8a8a" stroke-width="0.9"/>
<circle cx="458" cy="465" r="2.75" fill="#dedede" stroke="#8a8a8a" stroke-width="0.9"/>
<circle cx="508.8" cy="486.7" r="2.75" fill="#dedede" stroke="#8a8a8a" stroke-width="0.9"/>
<path d="M354.8 490L357.8 495.5L351.8 495.5Z" fill="#dedede" stroke="#8a8a8a" stroke-width="0.9"/>
<path d="M406.3 473.2L409.3 478.7L403.3 478.7Z" fill="#dedede" stroke="#8a8a8a" stroke-width="0.9"/>
<path d="M458 471.2L461 476.7L455 476.7Z" fill="#dedede" stroke="#8a8a8a" stroke-width="0.9"/>
<path d="M508.8 491.2L511.8 496.7L505.8 496.7Z" fill="#dedede" stroke="#8a8a8a" stroke-width="0.9"/>
<rect x="352.05" y="490.75" width="5.5" height="5.5" fill="#dcdcdc" stroke="#8a8a8a" stroke-width="0.9"/>
<rect x="403.55" y="490.25" width="5.5" height="5.5" fill="#dcdcdc" stroke="#8a8a8a" stroke-width="0.9"/>
<rect x="455.25" y="522.65" width="5.5" height="5.5" fill="#dcdcdc" stroke="#8a8a8a" stroke-width="0.9"/>
<rect x="506.05" y="528.45" width="5.5" height="5.5" fill="#dcdcdc" stroke="#8a8a8a" stroke-width="0.9"/>
<path d="M354.8 471.1L357.9 474.2L354.8 477.3L351.7 474.2Z" fill="#dedede" stroke="#8a8a8a" stroke-width="0.9"/>
<path d="M406.3 471.5L409.4 474.6L406.3 477.7L403.2 474.6Z" fill="#dedede" stroke="#8a8a8a" stroke-width="0.9"/>
<path d="M458 485.4L461.1 488.5L458 491.6L454.9 488.5Z" fill="#dedede" stroke="#8a8a8a" stroke-width="0.9"/>
<path d="M508.8 508.4L511.9 511.5L508.8 514.6L505.7 511.5Z" fill="#dedede" stroke="#8a8a8a" stroke-width="0.9"/>
<rect x="352.05" y="465.15" width="5.5" height="5.5" fill="#4f81bd" stroke="#26497a" stroke-width="0.95"/>
<rect x="403.55" y="469.55" width="5.5" height="5.5" fill="#4f81bd" stroke="#26497a" stroke-width="0.95"/>
<rect x="455.25" y="471.45" width="5.5" height="5.5" fill="#4f81bd" stroke="#26497a" stroke-width="0.95"/>
<rect x="506.05" y="459.65" width="5.5" height="5.5" fill="#4f81bd" stroke="#26497a" stroke-width="0.95"/>
<rect x="352.05" y="471.45" width="5.5" height="5.5" fill="#4f81bd" stroke="#26497a" stroke-width="0.95"/>
<rect x="403.55" y="471.85" width="5.5" height="5.5" fill="#4f81bd" stroke="#26497a" stroke-width="0.95"/>
<rect x="455.25" y="514.15" width="5.5" height="5.5" fill="#4f81bd" stroke="#26497a" stroke-width="0.95"/>
<rect x="506.05" y="528.45" width="5.5" height="5.5" fill="#4f81bd" stroke="#26497a" stroke-width="0.95"/>
<rect x="352.05" y="477.85" width="5.5" height="5.5" fill="#4f81bd" stroke="#26497a" stroke-width="0.95"/>
<rect x="403.55" y="499.05" width="5.5" height="5.5" fill="#4f81bd" stroke="#26497a" stroke-width="0.95"/>
<rect x="455.25" y="546.45" width="5.5" height="5.5" fill="#4f81bd" stroke="#26497a" stroke-width="0.95"/>
<rect x="506.05" y="545.45" width="5.5" height="5.5" fill="#4f81bd" stroke="#26497a" stroke-width="0.95"/>
<rect x="352.05" y="471.45" width="5.5" height="5.5" fill="#4f81bd" stroke="#26497a" stroke-width="0.95"/>
<rect x="403.55" y="473.45" width="5.5" height="5.5" fill="#4f81bd" stroke="#26497a" stroke-width="0.95"/>
<rect x="455.25" y="485.75" width="5.5" height="5.5" fill="#4f81bd" stroke="#26497a" stroke-width="0.95"/>
<rect x="506.05" y="481.05" width="5.5" height="5.5" fill="#4f81bd" stroke="#26497a" stroke-width="0.95"/>
<rect x="326.35" y="473.32" width="5.5" height="5.5" fill="#4f81bd" stroke="#26497a" stroke-width="0.95"/>
<line x1="332.5" y1="476.07" x2="334.3" y2="476.07" stroke="#1a1a1a" stroke-width="1.2"/>
<text x="70" y="615.5" class="lg">Legend A-C</text>
<line x1="67.5" y1="627" x2="76.3" y2="627" stroke="#1a1a1a" stroke-width="0.8"/>
<rect x="69.5" y="624.5" width="5" height="5" fill="#dcdcdc" stroke="#8a8a8a" stroke-width="0.9"/>
<text x="80.5" y="630" textLength="52" lengthAdjust="spacingAndGlyphs" class="lg"><tspan font-style="italic">RCSD1::ABL1</tspan></text>
<line x1="67.5" y1="639.8" x2="76.3" y2="639.8" stroke="#1a1a1a" stroke-width="0.8"/>
<rect x="69.5" y="637.3" width="5" height="5" fill="#4f7db8" stroke="#1d3557" stroke-width="1"/><path d="M70.3 638.1L73.7 641.5M73.7 638.1L70.3 641.5" stroke="#1d3557" stroke-width="1.1"/>
<text x="80.5" y="642.8" textLength="82.5" lengthAdjust="spacingAndGlyphs" class="lg"><tspan font-style="italic">RCSD1::ABL1</tspan>wSH3_1</text>
<line x1="67.5" y1="652.1" x2="76.3" y2="652.1" stroke="#1a1a1a" stroke-width="0.8"/>
<rect x="69.5" y="649.6" width="5" height="5" fill="#5a88c4" stroke="#1d3557" stroke-width="1"/><circle cx="72" cy="652.1" r="0.9" fill="#1d3557"/>
<text x="80.5" y="655.1" textLength="82.5" lengthAdjust="spacingAndGlyphs" class="lg"><tspan font-style="italic">RCSD1::ABL1</tspan>wSH3_2</text>
<text x="329.3" y="615.5" class="lg">Legend D-F</text>
<line x1="328.3" y1="625.5" x2="338" y2="625.5" stroke="#1a1a1a" stroke-width="0.8"/>
<circle cx="333.2" cy="625.5" r="2.75" fill="#dedede" stroke="#8a8a8a" stroke-width="0.9"/>
<text x="341.8" y="628.5" textLength="61.2" lengthAdjust="spacingAndGlyphs" class="lg">PDGFRB (–SH3)</text>
<line x1="328.3" y1="638" x2="338" y2="638" stroke="#1a1a1a" stroke-width="0.8"/>
<rect x="330.7" y="635.5" width="5" height="5" fill="#dcdcdc" stroke="#8a8a8a" stroke-width="0.9"/>
<text x="341.8" y="641" textLength="48.2" lengthAdjust="spacingAndGlyphs" class="lg">ABL1 (–SH3)</text>
<line x1="328.3" y1="650.8" x2="338" y2="650.8" stroke="#1a1a1a" stroke-width="0.8"/>
<rect x="330.7" y="648.3" width="5" height="5" fill="#4f81bd" stroke="#26497a" stroke-width="0.95"/>
<text x="341.8" y="653.8" textLength="50" lengthAdjust="spacingAndGlyphs" class="lg">ABL1 (+SH3)</text>
<line x1="328.3" y1="663.3" x2="338" y2="663.3" stroke="#1a1a1a" stroke-width="0.8"/>
<path d="M333.2 660.3L336.2 665.8L330.2 665.8Z" fill="#dedede" stroke="#8a8a8a" stroke-width="0.9"/>
<text x="341.8" y="666.3" textLength="53.2" lengthAdjust="spacingAndGlyphs" class="lg">CSF1R (–SH3)</text>
<line x1="328.3" y1="675.5" x2="338" y2="675.5" stroke="#1a1a1a" stroke-width="0.8"/>
<path d="M333.2 672.4L336.3 675.5L333.2 678.6L330.1 675.5Z" fill="#dedede" stroke="#8a8a8a" stroke-width="0.9"/>
<text x="341.8" y="678.5" textLength="48.2" lengthAdjust="spacingAndGlyphs" class="lg">ABL2 (–SH3)</text>
</svg><div id="frame"></div></div></body></html>
